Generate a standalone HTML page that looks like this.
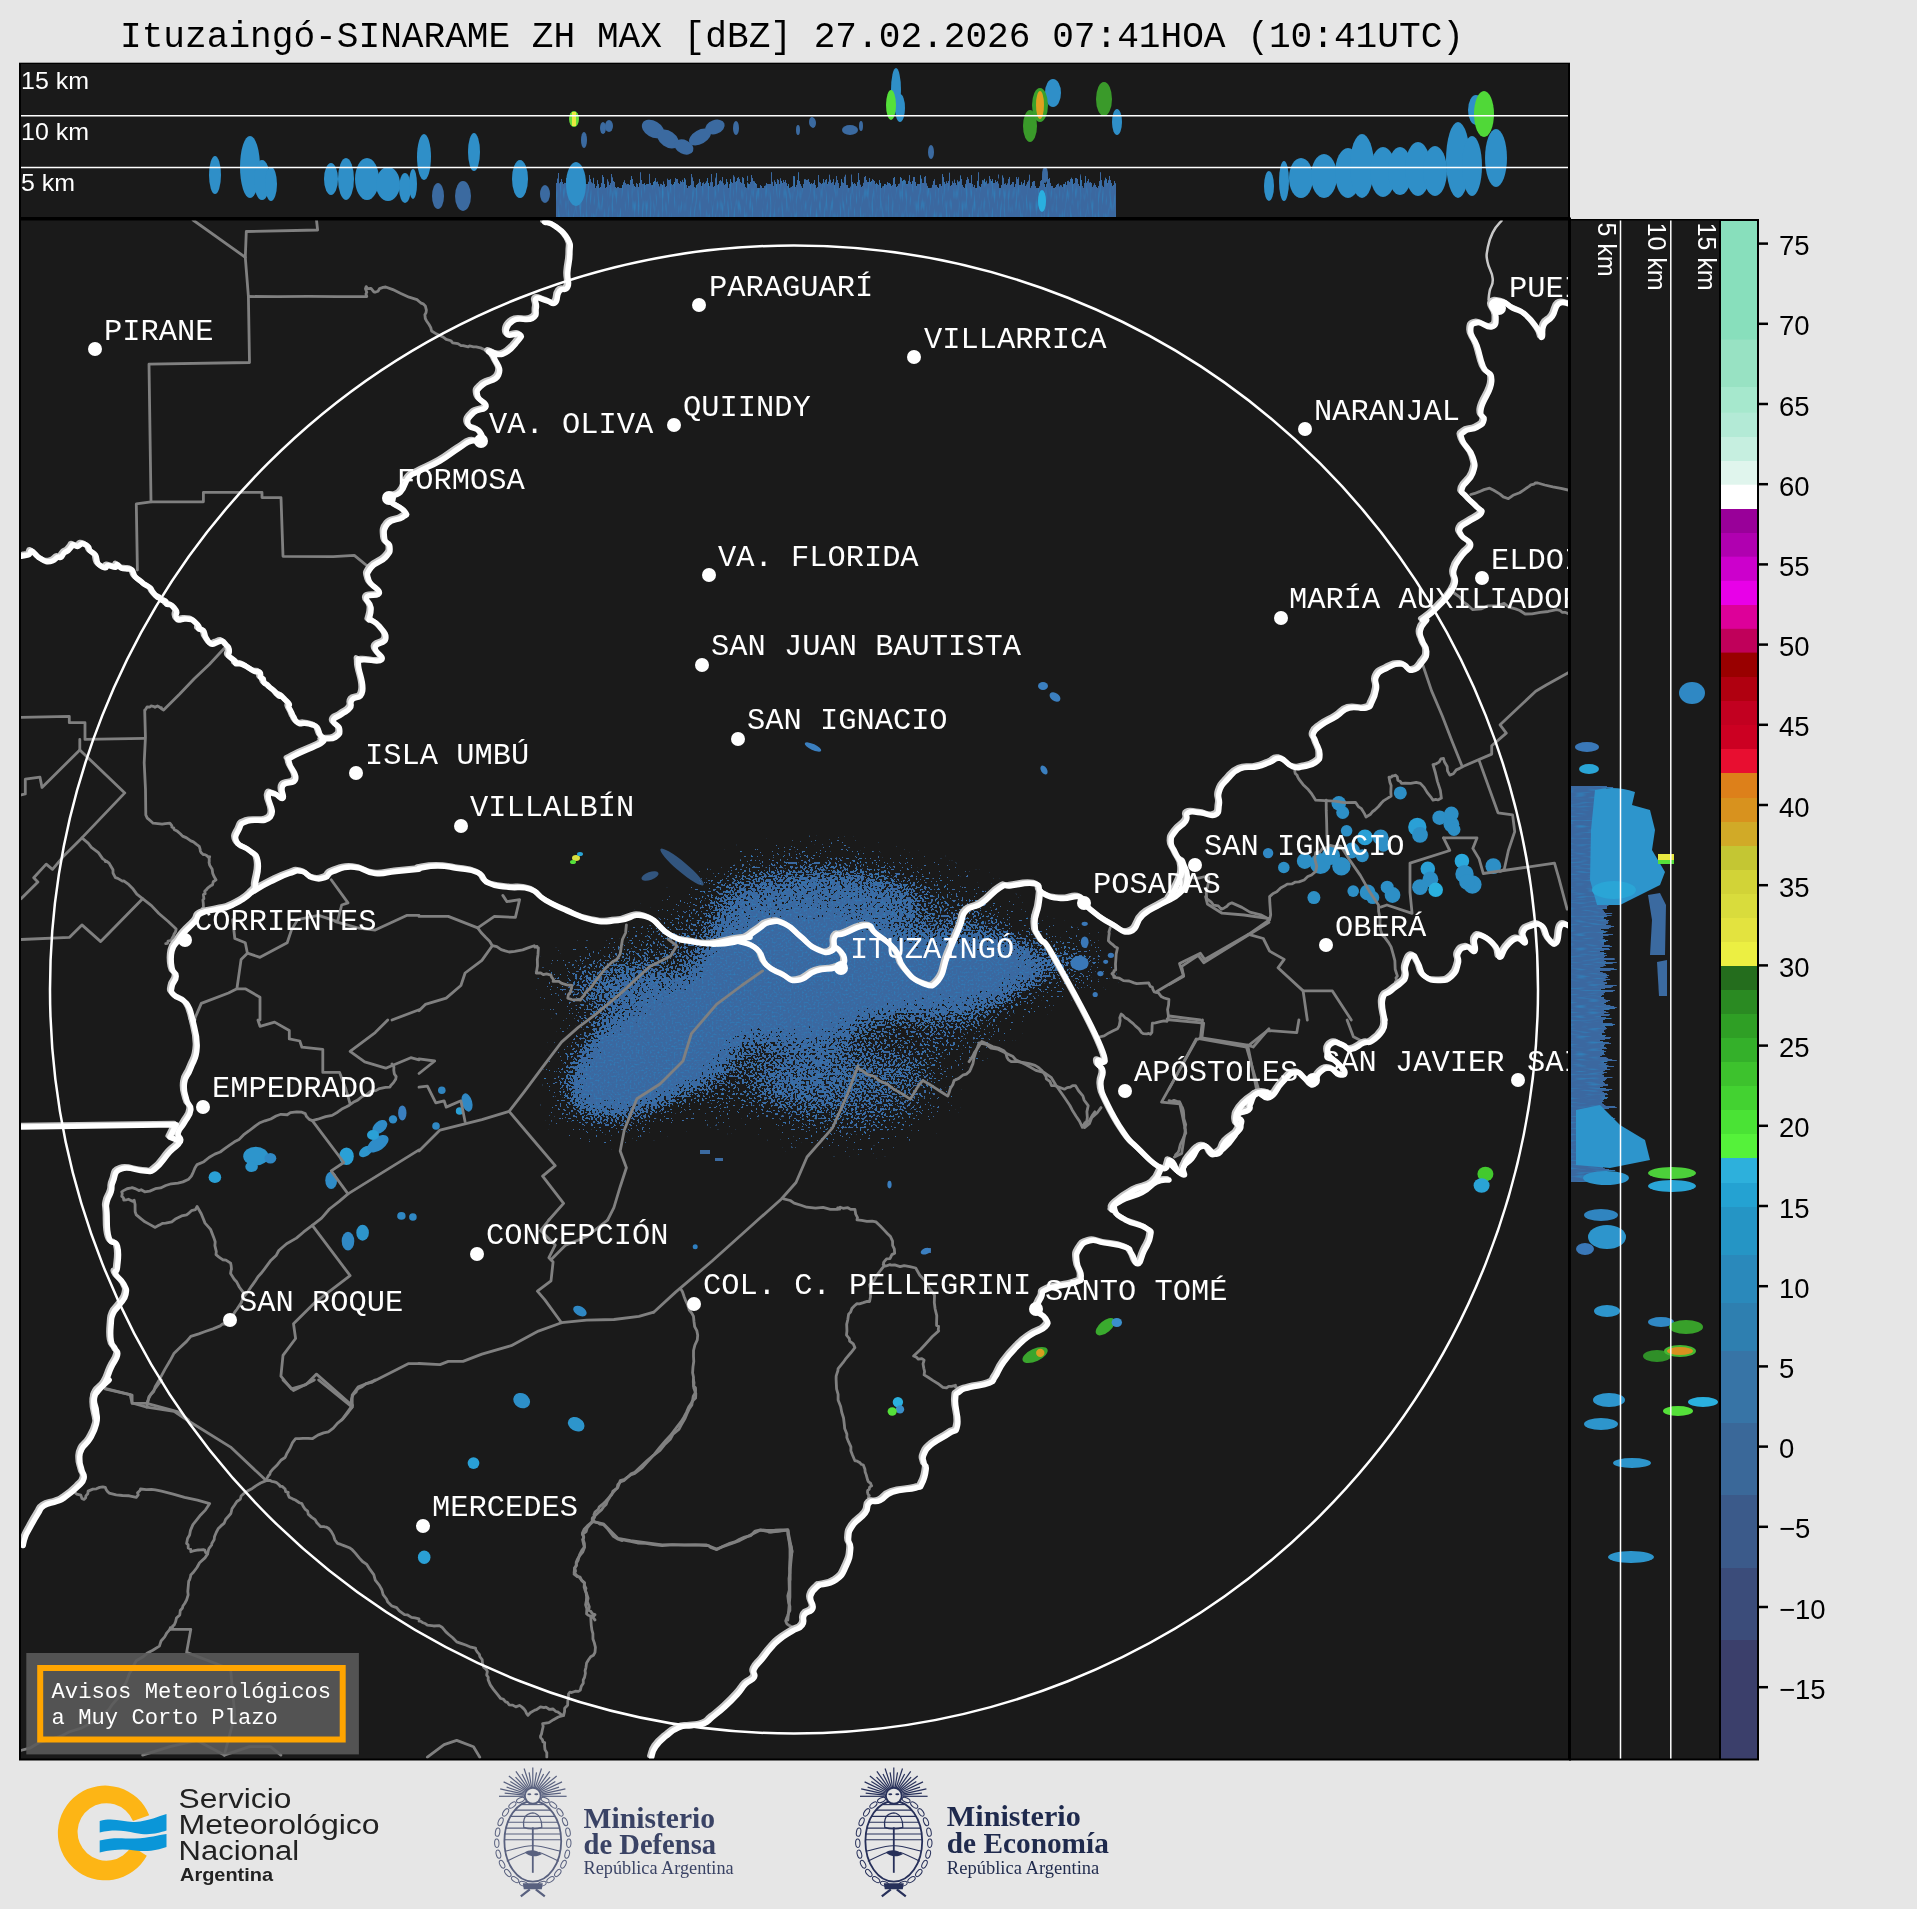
<!DOCTYPE html>
<html><head><meta charset="utf-8"><style>
html,body{margin:0;padding:0;background:#e6e6e6;width:1917px;height:1909px;overflow:hidden}
svg{display:block;will-change:transform}
</style></head><body>
<svg width="1917" height="1909" viewBox="0 0 1917 1909">
<defs>
<clipPath id="cm"><rect x="21" y="220.5" width="1547" height="1538"/></clipPath>
<clipPath id="ct"><rect x="21" y="64" width="1547" height="153"/></clipPath>
<clipPath id="cr"><rect x="1571" y="220.5" width="148" height="1538"/></clipPath>
</defs>
<rect x="0" y="0" width="1917" height="1909" fill="#e6e6e6"/>
<text x="120" y="47.3" font-family="Liberation Mono, monospace" font-size="36" fill="#000" textLength="1344" lengthAdjust="spacingAndGlyphs">Ituzaingó-SINARAME ZH MAX [dBZ] 27.02.2026 07:41HOA (10:41UTC)</text>
<!-- TOP PANEL -->
<rect x="19" y="62.7" width="1551" height="157.3" fill="#000"/>
<rect x="21" y="64" width="1547" height="153" fill="#1a1a1a"/>
<g clip-path="url(#ct)">
<g>
<defs>
<linearGradient id="tgr" x1="0" y1="0" x2="0" y2="1"><stop offset="0" stop-color="#000"/><stop offset="0.22" stop-color="#555"/><stop offset="0.42" stop-color="#fff"/><stop offset="1" stop-color="#fff"/></linearGradient>
<filter id="tstk" filterUnits="userSpaceOnUse" x="540" y="170" width="590" height="48" color-interpolation-filters="sRGB">
<feColorMatrix in="SourceGraphic" type="luminanceToAlpha" result="la"/>
<feTurbulence type="fractalNoise" baseFrequency="0.45 0.04" numOctaves="1" seed="3" result="nz"/>
<feColorMatrix in="nz" type="matrix" values="0 0 0 0 0  0 0 0 0 0  0 0 0 0 0  2.2 0 0 0 -0.6" result="na"/>
<feComposite in="la" in2="na" operator="arithmetic" k1="0" k2="1.3" k3="-1" k4="0" result="d1"/>
<feComponentTransfer in="d1" result="mask"><feFuncA type="linear" slope="40"/></feComponentTransfer>
<feTurbulence type="fractalNoise" baseFrequency="0.5 0.08" numOctaves="1" seed="9" result="nz2"/>
<feColorMatrix in="nz2" type="matrix" values="0 0 0 0 0.18  0 0 0 0 0.52  0 0 0 0 0.75  2.6 0 0 0 -1.3" result="col2"/>
<feFlood flood-color="#3b68a0" result="c1"/>
<feComposite in="col2" in2="c1" operator="over" result="col"/>
<feComposite in="col" in2="mask" operator="in"/>
</filter>
</defs>
<g filter="url(#tstk)"><rect x="540" y="170" width="590" height="48" fill="#000"/><rect x="556" y="172" width="560" height="46" fill="url(#tgr)"/></g>
<g fill="#2f8fc8">
<ellipse cx="215" cy="175" rx="6" ry="19"/>
<ellipse cx="250" cy="167" rx="10" ry="31"/>
<ellipse cx="262" cy="180" rx="8" ry="20"/>
<ellipse cx="271" cy="184" rx="6" ry="17"/>
<ellipse cx="331" cy="179" rx="7" ry="16"/>
<ellipse cx="346" cy="179" rx="8" ry="21"/>
<ellipse cx="367" cy="179" rx="12" ry="21"/>
<ellipse cx="388" cy="184" rx="12" ry="17"/>
<ellipse cx="405" cy="188" rx="6" ry="15"/>
<ellipse cx="413" cy="184" rx="4" ry="15"/>
<ellipse cx="424" cy="157" rx="7" ry="23"/>
<ellipse cx="474" cy="152" rx="6" ry="19"/>
<ellipse cx="520" cy="179" rx="8" ry="19"/>
<ellipse cx="576" cy="184" rx="10" ry="22"/>
<ellipse cx="896" cy="90" rx="5" ry="22"/>
<ellipse cx="900" cy="108" rx="5" ry="14"/>
<ellipse cx="1053" cy="93" rx="8" ry="14"/>
<ellipse cx="1117" cy="122" rx="5" ry="13"/>
<ellipse cx="1269" cy="186" rx="5" ry="15"/>
<ellipse cx="1284" cy="181" rx="5" ry="20"/>
<ellipse cx="1301" cy="178" rx="12" ry="20"/><ellipse cx="1324" cy="176" rx="13" ry="22"/><ellipse cx="1348" cy="173" rx="13" ry="25"/><ellipse cx="1362" cy="166" rx="12" ry="32"/><ellipse cx="1383" cy="172" rx="13" ry="25"/><ellipse cx="1400" cy="171" rx="12" ry="24"/><ellipse cx="1418" cy="169" rx="13" ry="27"/><ellipse cx="1435" cy="171" rx="12" ry="25"/><ellipse cx="1458" cy="160" rx="12" ry="38"/><ellipse cx="1472" cy="166" rx="10" ry="30"/><ellipse cx="1496" cy="158" rx="11" ry="29"/>
<ellipse cx="1476" cy="110" rx="8" ry="15"/>
</g>
<g fill="#3b6aa0">
<ellipse cx="438" cy="196" rx="6" ry="13"/>
<ellipse cx="463" cy="196" rx="8" ry="15"/>
<ellipse cx="545" cy="194" rx="5" ry="9"/>
<ellipse cx="584" cy="140" rx="3" ry="8"/>
<ellipse cx="603" cy="128" rx="3" ry="6"/>
<ellipse cx="609" cy="126" rx="4" ry="6"/>
<ellipse cx="653" cy="129" rx="12" ry="8" transform="rotate(30 653 129)"/><ellipse cx="668" cy="139" rx="12" ry="8" transform="rotate(35 668 139)"/><ellipse cx="684" cy="147" rx="10" ry="7" transform="rotate(25 684 147)"/><ellipse cx="700" cy="137" rx="12" ry="7" transform="rotate(-30 700 137)"/><ellipse cx="715" cy="127" rx="10" ry="7" transform="rotate(-20 715 127)"/><ellipse cx="736" cy="128" rx="3" ry="7"/><ellipse cx="798" cy="130" rx="2" ry="5"/><ellipse cx="813" cy="123" rx="3" ry="5"/><ellipse cx="850" cy="130" rx="8" ry="5"/><ellipse cx="861" cy="126" rx="2" ry="5"/>
<ellipse cx="812" cy="122" rx="3" ry="5"/>

<ellipse cx="931" cy="152" rx="3" ry="7"/>
<ellipse cx="1045" cy="175" rx="3" ry="8"/>
</g>
<ellipse cx="574" cy="119" rx="5" ry="8" fill="#66dd3a"/>
<rect x="572" y="112" width="4" height="14" fill="#e8e840"/>
<ellipse cx="891" cy="105" rx="5" ry="15" fill="#55e03a"/>
<ellipse cx="1030" cy="126" rx="7" ry="16" fill="#3a9a2a"/>
<ellipse cx="1040" cy="105" rx="8" ry="17" fill="#3aa02c"/>
<ellipse cx="1040" cy="105" rx="4" ry="14" fill="#e0a020"/>
<ellipse cx="1104" cy="99" rx="8" ry="17" fill="#3a9a2a"/>
<ellipse cx="1042" cy="201" rx="4" ry="11" fill="#2ab0e0"/>
<ellipse cx="1484" cy="114" rx="10" ry="23" fill="#50d838"/>
</g>

<line x1="21" y1="115.7" x2="1568" y2="115.7" stroke="#fff" stroke-width="1.5"/>
<line x1="21" y1="167.6" x2="1568" y2="167.6" stroke="#fff" stroke-width="1.5"/>
</g>
<g font-family="Liberation Sans, sans-serif" font-size="24" fill="#fff">
<text x="21" y="88.5" textLength="68" lengthAdjust="spacingAndGlyphs">15 km</text><text x="21" y="139.5" textLength="68" lengthAdjust="spacingAndGlyphs">10 km</text><text x="21" y="190.5" textLength="54" lengthAdjust="spacingAndGlyphs">5 km</text>
</g>
<!-- MAP -->
<rect x="19" y="217.5" width="1552" height="1543" fill="#000"/>
<rect x="21" y="220.5" width="1547" height="1538" fill="#1a1a1a"/>
<g clip-path="url(#cm)">
<filter id="spk" filterUnits="userSpaceOnUse" x="520" y="790" width="600" height="400" color-interpolation-filters="sRGB">
<feColorMatrix in="SourceGraphic" type="luminanceToAlpha" result="la"/>
<feGaussianBlur in="la" stdDeviation="14" result="dens"/>
<feTurbulence type="fractalNoise" baseFrequency="0.45" numOctaves="1" seed="7" result="nz"/>
<feColorMatrix in="nz" type="matrix" values="0 0 0 0 0  0 0 0 0 0  0 0 0 0 0  2.2 0 0 0 -0.6" result="na"/>
<feComposite in="dens" in2="na" operator="arithmetic" k1="0" k2="1.2" k3="-1" k4="0" result="d1"/>
<feComponentTransfer in="d1" result="mask"><feFuncA type="linear" slope="40" intercept="0"/></feComponentTransfer>
<feTurbulence type="fractalNoise" baseFrequency="0.5" numOctaves="1" seed="11" result="nz2"/>
<feColorMatrix in="nz2" type="matrix" values="0 0 0 0 0.17  0 0 0 0 0.50  0 0 0 0 0.74  2.5 0 0 0 -1.2" result="col2"/>
<feFlood flood-color="#3b68a0" result="c1"/>
<feComposite in="col2" in2="c1" operator="over" result="col"/>
<feComposite in="col" in2="mask" operator="in"/>
</filter>
<g filter="url(#spk)">
<rect x="520" y="790" width="600" height="400" fill="#000"/>
<ellipse cx="805" cy="990" rx="220" ry="110" fill="#fff" opacity="0.3" transform="rotate(-10 805 990)"/><ellipse cx="660" cy="1048" rx="105" ry="50" fill="#fff" opacity="0.95" transform="rotate(-32 660 1048)"/><ellipse cx="800" cy="978" rx="105" ry="62" fill="#fff" opacity="0.9" transform="rotate(0 800 978)"/><ellipse cx="935" cy="975" rx="110" ry="38" fill="#fff" opacity="0.85" transform="rotate(-5 935 975)"/><ellipse cx="1050" cy="962" rx="45" ry="12" fill="#fff" opacity="0.7" transform="rotate(0 1050 962)"/><ellipse cx="815" cy="905" rx="105" ry="42" fill="#fff" opacity="0.55" transform="rotate(0 815 905)"/><ellipse cx="845" cy="1085" rx="90" ry="45" fill="#fff" opacity="0.4" transform="rotate(0 845 1085)"/><ellipse cx="615" cy="985" rx="55" ry="22" fill="#fff" opacity="0.5" transform="rotate(0 615 985)"/><ellipse cx="880" cy="1040" rx="45" ry="30" fill="#000" opacity="0.3" transform="rotate(0 880 1040)"/><ellipse cx="628" cy="1010" rx="32" ry="3" fill="#000" opacity="0.9" transform="rotate(-15 628 1010)"/>
</g>
<ellipse cx="682" cy="867" rx="28" ry="5" fill="#3b6aa0" opacity="0.75" transform="rotate(40 682 867)"/>
<ellipse cx="650" cy="876" rx="9" ry="4" fill="#3b6aa0" opacity="0.75" transform="rotate(-20 650 876)"/>
<g fill="#3b7fbf"><ellipse cx="1043" cy="686" rx="5" ry="4"/><ellipse cx="1055" cy="697" rx="6" ry="4" transform="rotate(35 1055 697)"/><ellipse cx="1044" cy="770" rx="3" ry="5" transform="rotate(-30 1044 770)"/><ellipse cx="813" cy="747" rx="9" ry="3" transform="rotate(25 813 747)"/></g>
<g fill="#3b6aa0"><rect x="700" y="1150" width="10" height="4"/><rect x="715" y="1158" width="8" height="3"/><rect x="925" y="1248" width="6" height="5"/></g>
<g><ellipse cx="576" cy="858" rx="4" ry="3" fill="#d8e040"/><ellipse cx="573" cy="862" rx="3" ry="2" fill="#55e03a"/><ellipse cx="580" cy="854" rx="3" ry="2" fill="#2aa5d6"/></g>
<ellipse cx="1338.8" cy="803.3" rx="7.3" ry="7.3" fill="#2d8fc6" transform="rotate(0 1338.8 803.3)"/><ellipse cx="1342.7" cy="812.5" rx="6.5" ry="6.5" fill="#2d8fc6" transform="rotate(0 1342.7 812.5)"/><ellipse cx="1400.3" cy="792.9" rx="6.5" ry="6.5" fill="#2d8fc6" transform="rotate(0 1400.3 792.9)"/><ellipse cx="1346.6" cy="830.8" rx="5.8" ry="5.8" fill="#2d8fc6" transform="rotate(0 1346.6 830.8)"/><ellipse cx="1304.7" cy="861.0" rx="7.9" ry="7.9" fill="#2d8fc6" transform="rotate(0 1304.7 861.0)"/><ellipse cx="1320.4" cy="863.6" rx="10.5" ry="10.5" fill="#2d8fc6" transform="rotate(0 1320.4 863.6)"/><ellipse cx="1330.9" cy="855.7" rx="9.2" ry="9.2" fill="#2d8fc6" transform="rotate(0 1330.9 855.7)"/><ellipse cx="1341.4" cy="866.2" rx="9.2" ry="9.2" fill="#2d8fc6" transform="rotate(0 1341.4 866.2)"/><ellipse cx="1351.9" cy="850.5" rx="7.9" ry="7.9" fill="#2d8fc6" transform="rotate(0 1351.9 850.5)"/><ellipse cx="1365.0" cy="837.4" rx="7.9" ry="7.9" fill="#2aa0d6" transform="rotate(0 1365.0 837.4)"/><ellipse cx="1380.7" cy="837.4" rx="7.9" ry="7.9" fill="#2d8fc6" transform="rotate(0 1380.7 837.4)"/><ellipse cx="1383.3" cy="845.2" rx="6.5" ry="6.5" fill="#2d8fc6" transform="rotate(0 1383.3 845.2)"/><ellipse cx="1362.3" cy="855.7" rx="6.5" ry="6.5" fill="#2d8fc6" transform="rotate(0 1362.3 855.7)"/><ellipse cx="1268.1" cy="853.1" rx="5.2" ry="5.2" fill="#3088c4" transform="rotate(0 1268.1 853.1)"/><ellipse cx="1283.8" cy="867.5" rx="5.8" ry="5.8" fill="#2d8fc6" transform="rotate(0 1283.8 867.5)"/><ellipse cx="1313.9" cy="897.6" rx="6.5" ry="6.5" fill="#2d8fc6" transform="rotate(0 1313.9 897.6)"/><ellipse cx="1353.2" cy="891.1" rx="5.8" ry="5.8" fill="#2d8fc6" transform="rotate(0 1353.2 891.1)"/><ellipse cx="1367.6" cy="892.4" rx="7.9" ry="7.9" fill="#2d8fc6" transform="rotate(0 1367.6 892.4)"/><ellipse cx="1372.8" cy="897.6" rx="6.5" ry="6.5" fill="#2d8fc6" transform="rotate(0 1372.8 897.6)"/><ellipse cx="1387.2" cy="887.2" rx="6.5" ry="6.5" fill="#2d8fc6" transform="rotate(0 1387.2 887.2)"/><ellipse cx="1392.5" cy="895.0" rx="7.9" ry="7.9" fill="#2d8fc6" transform="rotate(0 1392.5 895.0)"/><ellipse cx="1417.3" cy="826.9" rx="9.2" ry="9.2" fill="#2aa0d6" transform="rotate(0 1417.3 826.9)"/><ellipse cx="1420.0" cy="834.8" rx="7.9" ry="7.9" fill="#2d8fc6" transform="rotate(0 1420.0 834.8)"/><ellipse cx="1439.6" cy="817.7" rx="7.3" ry="7.3" fill="#2d8fc6" transform="rotate(0 1439.6 817.7)"/><ellipse cx="1451.4" cy="824.3" rx="7.9" ry="7.9" fill="#2d8fc6" transform="rotate(0 1451.4 824.3)"/><ellipse cx="1451.4" cy="813.8" rx="7.3" ry="7.3" fill="#2d8fc6" transform="rotate(0 1451.4 813.8)"/><ellipse cx="1454.0" cy="829.5" rx="6.5" ry="6.5" fill="#2d8fc6" transform="rotate(0 1454.0 829.5)"/><ellipse cx="1427.8" cy="868.8" rx="7.3" ry="7.3" fill="#2aa0d6" transform="rotate(0 1427.8 868.8)"/><ellipse cx="1430.4" cy="879.3" rx="7.9" ry="7.9" fill="#2d8fc6" transform="rotate(0 1430.4 879.3)"/><ellipse cx="1420.0" cy="887.2" rx="7.9" ry="7.9" fill="#2d8fc6" transform="rotate(0 1420.0 887.2)"/><ellipse cx="1435.7" cy="889.8" rx="7.3" ry="7.3" fill="#2ab0de" transform="rotate(0 1435.7 889.8)"/><ellipse cx="1461.9" cy="861.0" rx="7.3" ry="7.3" fill="#2aa8dc" transform="rotate(0 1461.9 861.0)"/><ellipse cx="1464.5" cy="874.1" rx="9.2" ry="9.2" fill="#2d8fc6" transform="rotate(0 1464.5 874.1)"/><ellipse cx="1472.4" cy="884.5" rx="9.2" ry="9.2" fill="#2d8fc6" transform="rotate(0 1472.4 884.5)"/><ellipse cx="1467.1" cy="881.9" rx="7.9" ry="7.9" fill="#2d8fc6" transform="rotate(0 1467.1 881.9)"/><ellipse cx="1493.3" cy="866.2" rx="7.9" ry="7.9" fill="#2d8fc6" transform="rotate(0 1493.3 866.2)"/><ellipse cx="1079.5" cy="963.1" rx="9.2" ry="7.3" fill="#3a78b8" transform="rotate(0 1079.5 963.1)"/><ellipse cx="1084.7" cy="942.2" rx="3.9" ry="5.8" fill="#3a78b8" transform="rotate(0 1084.7 942.2)"/><ellipse cx="1084.7" cy="923.8" rx="3.1" ry="2.1" fill="#3a78b8" transform="rotate(0 1084.7 923.8)"/><ellipse cx="1110.9" cy="955.3" rx="3.1" ry="2.6" fill="#3a78b8" transform="rotate(0 1110.9 955.3)"/><ellipse cx="1100.4" cy="973.6" rx="3.1" ry="2.6" fill="#3a78b8" transform="rotate(0 1100.4 973.6)"/><ellipse cx="1095.2" cy="994.5" rx="2.6" ry="2.6" fill="#3a78b8" transform="rotate(0 1095.2 994.5)"/><ellipse cx="1105.7" cy="961.8" rx="2.6" ry="2.1" fill="#3a78b8" transform="rotate(0 1105.7 961.8)"/><ellipse cx="1485.4" cy="1174.0" rx="8.0" ry="7.3" fill="#43c92e" transform="rotate(0 1485.4 1174.0)"/><ellipse cx="1481.6" cy="1185.5" rx="8.0" ry="7.3" fill="#2aa3d6" transform="rotate(0 1481.6 1185.5)"/><ellipse cx="897.9" cy="1402.1" rx="5.2" ry="5.2" fill="#2bb0de" transform="rotate(0 897.9 1402.1)"/><ellipse cx="900.0" cy="1409.4" rx="4.2" ry="4.2" fill="#3a8ec8" transform="rotate(0 900.0 1409.4)"/><ellipse cx="892.2" cy="1411.5" rx="4.6" ry="4.2" fill="#55e03a" transform="rotate(0 892.2 1411.5)"/><ellipse cx="1035.1" cy="1355.0" rx="13.6" ry="6.3" fill="#3aa52d" transform="rotate(-25 1035.1 1355.0)"/><ellipse cx="1040.3" cy="1352.9" rx="4.2" ry="4.2" fill="#d8a020" transform="rotate(0 1040.3 1352.9)"/><ellipse cx="1105.3" cy="1326.7" rx="11.5" ry="5.9" fill="#3aaa2e" transform="rotate(-40 1105.3 1326.7)"/><ellipse cx="1116.8" cy="1322.5" rx="5.2" ry="4.6" fill="#3b8fcc" transform="rotate(0 1116.8 1322.5)"/><ellipse cx="925.7" cy="1251.2" rx="5.2" ry="3.1" fill="#3b7fc0" transform="rotate(-20 925.7 1251.2)"/><ellipse cx="889.5" cy="1184.6" rx="2.1" ry="3.8" fill="#3b7fc0" transform="rotate(0 889.5 1184.6)"/><ellipse cx="255.8" cy="1156.2" rx="12.6" ry="9.4" fill="#2d95cc" transform="rotate(0 255.8 1156.2)"/><ellipse cx="270.4" cy="1158.3" rx="5.9" ry="5.2" fill="#3088c4" transform="rotate(0 270.4 1158.3)"/><ellipse cx="251.6" cy="1166.7" rx="6.3" ry="5.2" fill="#2d95cc" transform="rotate(0 251.6 1166.7)"/><ellipse cx="214.9" cy="1177.2" rx="6.3" ry="5.9" fill="#2aa0d6" transform="rotate(0 214.9 1177.2)"/><ellipse cx="346.5" cy="1156.2" rx="7.3" ry="8.8" fill="#2aa0d6" transform="rotate(0 346.5 1156.2)"/><ellipse cx="331.2" cy="1180.3" rx="5.9" ry="8.8" fill="#2f8cc8" transform="rotate(0 331.2 1180.3)"/><ellipse cx="348.0" cy="1241.1" rx="6.3" ry="9.4" fill="#3088c4" transform="rotate(0 348.0 1241.1)"/><ellipse cx="362.6" cy="1232.7" rx="6.3" ry="8.0" fill="#2d95cc" transform="rotate(0 362.6 1232.7)"/><ellipse cx="401.4" cy="1215.9" rx="4.2" ry="3.8" fill="#3088c4" transform="rotate(0 401.4 1215.9)"/><ellipse cx="412.9" cy="1217.0" rx="3.8" ry="3.8" fill="#3088c4" transform="rotate(0 412.9 1217.0)"/><ellipse cx="521.7" cy="1400.6" rx="8.8" ry="7.3" fill="#2d8fc8" transform="rotate(30 521.7 1400.6)"/><ellipse cx="576.2" cy="1424.3" rx="8.8" ry="6.7" fill="#2d95cc" transform="rotate(30 576.2 1424.3)"/><ellipse cx="473.5" cy="1463.1" rx="5.9" ry="5.9" fill="#2aa0d6" transform="rotate(0 473.5 1463.1)"/><ellipse cx="424.2" cy="1557.3" rx="6.3" ry="6.7" fill="#2aa0d6" transform="rotate(0 424.2 1557.3)"/><ellipse cx="579.9" cy="1311.1" rx="7.3" ry="4.6" fill="#2f88c4" transform="rotate(30 579.9 1311.1)"/><ellipse cx="695.2" cy="1246.8" rx="2.5" ry="2.5" fill="#2f7fc0" transform="rotate(0 695.2 1246.8)"/><ellipse cx="365.7" cy="1151.4" rx="7.5" ry="4.7" fill="#2d95cc" transform="rotate(-35 365.7 1151.4)"/><ellipse cx="378" cy="1143.8" rx="12" ry="6.6" fill="#2f8cc8" transform="rotate(-35 378 1143.8)"/><ellipse cx="379.8" cy="1127" rx="8.5" ry="5.6" fill="#2f8cc8" transform="rotate(-40 379.8 1127)"/><ellipse cx="373" cy="1135" rx="6" ry="5" fill="#2aa0d6" transform="rotate(0 373 1135)"/><ellipse cx="393" cy="1119.4" rx="4.2" ry="4.2" fill="#2f8cc8" transform="rotate(0 393 1119.4)"/><ellipse cx="402.3" cy="1112.9" rx="4.2" ry="7.5" fill="#3a7fc0" transform="rotate(0 402.3 1112.9)"/><ellipse cx="441.8" cy="1090.3" rx="3.8" ry="3.8" fill="#3085c0" transform="rotate(0 441.8 1090.3)"/><ellipse cx="467" cy="1102.5" rx="5.2" ry="9.4" fill="#3088c4" transform="rotate(-15 467 1102.5)"/><ellipse cx="459.6" cy="1111" rx="3.8" ry="3.8" fill="#2aa0d6" transform="rotate(0 459.6 1111)"/><ellipse cx="436" cy="1126" rx="3.8" ry="3.8" fill="#3088c4" transform="rotate(0 436 1126)"/>
<g fill="none" stroke="#808080" stroke-width="2.8" stroke-linejoin="round" stroke-linecap="round">
<path d="M193,220 L245.3,257.3"/><path d="M316.5,220 L317.6,230 L246.3,231.5 L245.3,257.3 L248.4,296.5 L249.5,362.5 L149,364.2 L151,501.8 L136.3,503.9 L137.4,570"/><path d="M248.4,296.5 L277.895,296.631 L308.533,296.424 L337.217,296.692 L366.8,296.5 L365.956,294.051 L366.786,292.195 L365.457,288.642 L366.2,286.6 L367.499,288.706 L371.026,288.442 L373.861,291.897 L375,292.3 L378.014,291.229 L379.596,288.583 L383.087,287.356 L385.7,287 L392.843,289.582 L400.316,293.221 L409.044,297.203 L417,299.6 L419.117,301.484 L421.15,303.107 L423.131,303.837 L425.3,305.9 L426.395,310.141 L426.048,312.657 L424.894,314.755 L425.3,318.5 L426.411,320.679 L429.036,324.531 L430.787,327.625 L431.6,331 L436.258,333.864 L437.801,334.561 L443.453,337.234 L446.2,339.4 L450.957,340.749 L452.661,342.835 L457.913,343.619 L461,345.7 L463.217,345.607 L468.271,346.818 L469.535,345.967 L473.5,346.8 L476.272,346.882 L481.453,348.191 L484.58,349.834 L488.1,351"/><path d="M151,501.8 L203.4,501.8 L203.4,492.4 L262,492.4 L262,497.6 L281,497.6 L283,556.3 L333.3,556.7 L354.3,555.3 L371,569"/><path d="M1470.7,494.5 L1474.74,493.435 L1479.34,491.666 L1484.03,489.601 L1489.6,488.2 L1493.67,490.319 L1500.04,494.118 L1503.27,496.922 L1508.4,498.7 L1513.01,495.317 L1519.68,492.712 L1523.27,490.326 L1529.4,486.1 L1530.87,484.793 L1534.2,484.174 L1535.25,482.836 L1537.8,483 L1544.7,485.007 L1552.83,486.873 L1560.92,488.372 L1569,490.3"/><path d="M1454,593 L1459.71,597.139 L1463.56,602.156 L1467.4,604.764 L1472.8,609.7 L1481.55,608.824 L1487.95,605.868 L1496.88,605.944 L1504.2,603.4 L1508.78,607.04 L1515.54,608.928 L1519.78,610.478 L1525.2,614 L1532.04,613.943 L1540.32,612.3 L1548.22,611.487 L1556.6,609.7 L1559.91,610.321 L1562.09,612.335 L1564.95,612.327 L1569,614"/><path d="M224.3,648.3 L209.256,664.525 L194.201,678.716 L179.693,693.999 L163.6,710.1 L161.486,708.817 L161.381,707.583 L159.738,707.486 L159.4,707 L157.459,705.914 L154.897,707.31 L154.157,706.52 L151,705.9 L149.846,707.136 L147.059,706.977 L145.214,709.952 L144.7,710.1 L145.417,737.318 L144.197,762.8 L145.486,789.207 L145.8,814.9 L147.227,818.074 L148.516,819.151 L151.796,822.005 L153.1,823.2 L157.822,823.648 L162.145,824.113 L165.374,823.607 L169.9,823.2 L171.832,825.591 L171.818,826.989 L173.85,828.085 L174.1,829.5 L177.5,831.341 L180.532,833.94 L182.551,836.107 L186.6,837.9 L190.835,840.836 L193.402,841.855 L196.567,844.378 L199.2,846.3 L200.119,849.144 L200.384,851.05 L201.316,852.823 L203.4,854.7 L204.933,854.631 L206.986,855.744 L208.377,857.2 L209.7,856.8 L209.163,857.825 L209.262,861.392 L209.046,862.373 L209.7,865.2 L212.168,869.202 L212.722,873.362 L214.044,876.515 L216,879.8 L213.237,881.748 L212.473,884.911 L210.537,885.846 L207.6,888.2 L206.733,889.371 L204.7,891.342 L205.192,893.692 L203.4,894.5 L203.865,898.64 L202.909,900.072 L203.291,903.455 L203.4,907.1 L202.246,908.461 L202.627,910.187 L201.419,912.496 L201.3,913.3"/><path d="M21.1,717.4 L69.3,716.4 L69.3,722.7 L85,722.7 L85,739.4 L144.7,738.4"/><path d="M79.8,739.4 L79.8,749.9 L42,787.6 L40,777.2 L25.3,779.2 L25.3,793.9 L21.1,795"/><path d="M79.8,749.9 L124.8,792.9 L81.9,837.9 L63,856.8 L52.5,869.3 L46.2,864.1 L33.7,877.7 L37.9,881.9 L21.1,898.7"/><path d="M81.9,837.9 L88.1855,843.045 L91.4143,847.369 L98.3952,852.641 L102.8,858.9 L104.834,860.105 L105.53,861.641 L106.467,861.249 L109.1,863.1 L110.576,865.704 L112.975,869.822 L113.035,873.053 L115.4,877.7 L117.784,878.382 L119.886,879.641 L122.376,881.109 L123.8,880.9 L128.906,884.689 L133.145,889.093 L136.824,894.189 L142.6,898.7 L151.471,905.594 L158.899,913.561 L168.234,921.545 L176.2,929.1 L175.402,932.014 L173.866,934.442 L173.944,935.242 L172,938.5 L171.377,940.289 L168.036,940.998 L167.551,943.302 L165.7,943.7"/><path d="M142.6,898.7 L100.7,941.6 L81.9,924.9 L69.3,937.4 L21.1,939.5"/><path d="M232.7,919.6 L234.8,938.5 L245.3,942.7 L247.4,953.2 L260,957.3 L287.2,942.7 L291.4,930.1 L297.7,919.6 L318.6,915.4 L337.5,921.7 L341.7,905 L348,902.9 L331.2,879.8"/><path d="M335.4,921.7 L358.4,928 L375.2,930.1 L406.6,915.4 L419,915.4"/><path d="M247.4,953.2 L241.1,959.4 L236.9,988.8 L228.5,993 L201.3,1003.4 L195,1018.1 L195,1020"/><path d="M236.9,988.8 L245.3,988.8 L260,997.2 L260,1020"/><path d="M392,1020 L419,1009.7"/><path d="M419,916.4 L448.3,916.4 L477.7,927.9 L494.4,916.4 L515.4,917.4 L519.6,899.6 L507,901.7 L502.8,895.4"/><path d="M477.7,927.9 L481.079,932.501 L485.835,937.453 L489.627,941.17 L492.3,945.7 L496.833,946.626 L501.188,949.55 L505.212,950.904 L509.1,952 L514.744,951.305 L522.707,949.9 L528.006,947.915 L534.2,945.7 L534.855,947.127 L537.083,946.417 L536.432,947.145 L538.4,947.8 L537.986,954.69 L537.322,959.363 L537.505,965.741 L536.3,973 L540.635,972.805 L543.287,974.683 L546.534,973.802 L551,975.1 L551.561,977.142 L552.798,978.617 L553.556,979.734 L553.1,981.3 L558.813,981.439 L561.937,983.459 L566.813,984.953 L572,985.5 L571.256,988.7 L570.656,991.932 L568.436,994.689 L567.8,998.1 L571.685,999.506 L573.408,999.922 L578.206,999.728 L580.3,1000.2 L582.036,997.442 L583.529,996.007 L585.257,992.861 L586.6,991.8 L591.833,986.61 L594.781,982.012 L599.338,976.105 L603.4,970.9 L608.02,965.745 L611.885,962.31 L617.005,959.232 L620.2,954.1 L621.242,946.716 L622.479,939.304 L625.545,933.006 L626.4,924.8"/><path d="M492.3,945.7 L481.9,960.4 L465.1,973 L460.9,985.5 L446.2,998.1 L425.3,1004.4 L419,1010.7"/><path d="M668.3,939.4 L676.7,945.7 L670.4,956.2 L649.5,966.7 L620.2,993.9 L595,1014.9 L578.2,1027.4 L561.5,1042.1 L542.6,1067.2 L523.8,1092.4 L509.1,1111.3 L481.9,1119.6 L440,1130.1 L419,1151.1"/><path d="M509.1,1111.3 L532.1,1138.5 L555.2,1165.7 L542.6,1176.2 L563.6,1203.4 L548.9,1220"/><path d="M465.1,1121.7 L460.9,1100.8 L446.2,1107.1 L444.1,1100.8 L435.8,1102.9 L427.4,1086.1 L419,1087.2"/><path d="M419,1058.9 L434.7,1061 L419,1073.5"/><path d="M762.6,970.9 L741.7,985.5 L716.5,1004.4 L691.4,1033.7 L683,1061 L660,1084 L636.9,1098.7 L624.3,1130.1 L620.2,1151.1 L626.4,1167.8 L620.2,1186.7 L613.9,1207.6 L607.6,1220"/><path d="M857,1067.9 L862.423,1070.65 L867.271,1074.46 L874.361,1076.53 L878.9,1080.5 L887.339,1084.13 L893.877,1089.25 L902.786,1094.13 L910.2,1099.2 L913.032,1094.79 L915.631,1090.36 L918.82,1085.2 L922.8,1080.5 L928.501,1083.74 L935.367,1088.16 L941.277,1092.01 L947.8,1096.1 L949.44,1091.45 L950.299,1088.59 L952.83,1084.47 L954.1,1080.5 L958.773,1078.4 L962.685,1075.21 L966.33,1074.13 L969.7,1071.1 L972.936,1063.64 L973.993,1057.93 L976.13,1051.05 L979.1,1042.9 L986.203,1044.44 L991.027,1048.1 L997.321,1049.06 L1004.1,1052.3 L1008.76,1054.48 L1012.59,1056.18 L1015.66,1059.76 L1019.8,1061.7 L1026.56,1064.94 L1035.85,1070.41 L1044.31,1072.55 L1051.1,1077.3 L1055.81,1084.92 L1060.51,1091.81 L1064.52,1097.51 L1069.9,1105.5 L1072.16,1109.96 L1076.26,1116.48 L1079.43,1121.15 L1082.4,1127.4 L1084.83,1122.85 L1089.4,1120.68 L1092.71,1114.81 L1094.9,1111.8"/><path d="M1422.5,664 L1431.49,690.668 L1442.32,715.932 L1451.97,740.952 L1462.3,766.7 L1459.21,768.646 L1456.27,769.829 L1453.37,773.757 L1449.8,775.1 L1447.52,770.799 L1447.18,766.492 L1444.4,761.763 L1443.5,758.3 L1440.9,758.809 L1439.12,762.114 L1436.08,763.819 L1433,764.6 L1435.38,772.765 L1437.42,781.359 L1440.36,790.396 L1441.4,798.1 L1438.77,799.53 L1437.74,799.762 L1435.79,799.467 L1433,800.2 L1430.72,796.836 L1427.13,792.388 L1424.13,787.393 L1420.4,783.4 L1416.19,782.455 L1410.65,783.331 L1405.22,783.082 L1401.6,783.4 L1400.33,781.598 L1397.86,780.228 L1397.24,776.818 L1395.3,775.1 L1394.08,775.778 L1392.22,775.907 L1391.67,776.988 L1389,777.2 L1389.97,782.476 L1391.11,785.55 L1390.83,791.825 L1391.1,796 L1387.41,798.408 L1383.81,800.58 L1381.38,802.992 L1378.5,806.5 L1374.83,810.017 L1372.36,811.767 L1370.15,814.525 L1366,817 L1364.46,813.629 L1361.43,808.718 L1358.34,806.545 L1355.5,802.3 L1344.55,802.721 L1334.85,801.188 L1324.92,800.715 L1315.7,800.2 L1311.74,793.979 L1308.28,789.526 L1303.16,784.665 L1298.9,779.2 L1297.55,776.654 L1297.14,775.183 L1295.27,773.452 L1294.7,770.9"/><path d="M1462.3,766.7 L1491.7,754.1 L1491.7,745.7 L1506.3,733.1 L1500.1,724.8 L1535.7,691.2 L1546.2,685 L1569,672.4"/><path d="M1479.1,760.4 L1498,812.8 L1512.6,814.9 L1514.7,831.6 L1508.4,850.5 L1504.3,869.3 L1500.1,871.4"/><path d="M1443.5,837.9 L1477,837.9 L1472.8,848.4 L1479.1,858.9 L1483.3,873.5 L1554.5,863.1 L1558.7,877.7 L1567.1,909.2"/><path d="M1443.5,837.9 L1449.8,850.5 L1410,863.1 L1410,892.4 L1412.1,913.3 L1386.9,905 L1380.6,907.1"/><path d="M1326.2,800.2 L1326.25,810.656 L1326.64,822.244 L1326.94,835.335 L1328.2,846.3 L1324.83,848.75 L1322.5,848.46 L1319.9,852.003 L1315.7,852.6 L1314.76,858.192 L1315.54,861.951 L1316.74,866.136 L1315.7,871.4 L1311.55,874.987 L1307.79,876.58 L1304.15,879.972 L1298.9,881.9 L1295.45,882.103 L1291.82,883.903 L1287.22,884.065 L1284.2,886.1 L1280.61,887.899 L1276.77,891.719 L1273.15,893.452 L1269.6,896.6 L1269.78,902.173 L1270.21,908.168 L1270.69,914.846 L1269.6,919.6 L1260.69,914.85 L1249.9,912.114 L1241.95,907.35 L1231.9,902.9 L1228.97,903.972 L1227.06,906.193 L1224.23,907.918 L1221.4,909.2 L1218.28,905.893 L1213.5,905.005 L1211.29,902.158 L1206.7,898.7 L1206.21,892.484 L1207.25,888.035 L1208.55,882.075 L1208.8,877.7 L1204.19,876.759 L1198.49,878.088 L1194.81,877.988 L1190,877.7 L1186.57,879.228 L1183.06,880.506 L1181.09,883.17 L1177.4,884"/><path d="M1328.2,846.3 L1330.41,845.464 L1335.18,846.572 L1338.24,845.669 L1340.8,846.3 L1350.06,860.443 L1360.33,875.362 L1369.41,891.401 L1378.5,905 L1378.64,911.382 L1380.09,918.476 L1379.92,923.537 L1380.6,930.1 L1382.34,935.125 L1384.92,937.583 L1388.62,942.667 L1391.1,946.9 L1393.08,953.783 L1394.86,960.617 L1395.19,969.232 L1397.4,976.2 L1395.95,977.868 L1396.84,980.827 L1395.35,981.714 L1395.3,984.6"/><path d="M1269.6,919.6 L1248.6,934.3 L1204.6,959.4 L1200.4,953.2 L1179.5,963.6 L1183.7,976.2 L1169,984.6"/><path d="M1248.6,934.3 L1263.3,938.5 L1269.6,951.1 L1284.2,959.4 L1278,967.8 L1303.1,990.9 L1307.3,1020"/><path d="M1303.1,990.9 L1332.4,990.9 L1351.3,1020"/><path d="M1169,1016 L1200.4,1020"/><path d="M1202.5,1020 L1200.4,1038.9 L1246.5,1047.2 L1259.1,1091.2"/><path d="M1196.2,1038.9 L1169,1089.1"/><path d="M1246.5,1047.2 L1267.5,1030.5 L1296.8,1032.6 L1298.9,1020"/><path d="M1347.1,1020 L1353.4,1036.8 L1361.8,1041"/><path d="M1169,1100.7 L1171.31,1101.45 L1173.96,1100.36 L1177.34,1101.6 L1179.5,1101.7 L1181.47,1105.82 L1182.51,1107.86 L1183.32,1110.72 L1183.7,1114.3 L1183.82,1118.78 L1185.71,1124.57 L1184.72,1128.1 L1185.8,1133.1 L1183.93,1136.47 L1182.42,1140.2 L1180.4,1144.27 L1179.5,1147.8 L1179.1,1149.99 L1178.14,1152.14 L1175.64,1154.67 L1175.3,1156.2"/><path d="M783.7,1198.9 L790.288,1200.49 L794.149,1203.08 L801.047,1205.27 L806.7,1207.2 L815.576,1208.06 L823.07,1207.29 L830.353,1209.41 L838.1,1209.3 L837.71,1207.85 L839.672,1209.13 L838.761,1208.02 L840.2,1207.2 L843.092,1208.27 L847.878,1207.69 L850.61,1209.36 L854.9,1209.3 L855.472,1212.51 L855.718,1214.19 L857.505,1217.55 L857,1219.8 L861.711,1220.41 L866.936,1221.31 L872.088,1221.18 L875.9,1221.9 L880.268,1225.94 L883.978,1229.92 L887.584,1233.78 L890.5,1236.6 L892.557,1241.08 L892.652,1245.41 L894.315,1248.95 L894.7,1253.3 L891.9,1254.62 L889.981,1258.58 L886.551,1258.87 L884.2,1261.7 L883.55,1262.58 L883.742,1264.83 L883.23,1264.43 L884.2,1265.9 L885.978,1265.98 L890.057,1264.69 L891.112,1265.06 L894.7,1264.9 L900.135,1266.58 L904.18,1265.59 L909.756,1266.6 L915.7,1268 L919.818,1275.28 L925.309,1280.99 L929.107,1287.92 L934.5,1295.2 L934.305,1302.59 L935.136,1308.96 L936.773,1315.63 L936.6,1322.5 L936.598,1325.45 L938.561,1326.35 L938.279,1329.81 L938.7,1330.9 L932.387,1336.56 L925.159,1344.43 L920.538,1349.47 L913.6,1356 L916.286,1357.08 L918.354,1359.18 L921.822,1358.57 L924.1,1360.2 L923.024,1363.81 L923.817,1368.2 L924.569,1371.46 L924.1,1374.9 L928.046,1377.27 L933.108,1380.62 L939.012,1384.31 L942.9,1387.4 L946.351,1387.96 L948.686,1386.43 L951.581,1386.42 L955.5,1385.3 L955.453,1387.06 L958.362,1388.11 L957.731,1387.94 L959.7,1389.5"/><path d="M884.2,1265.9 L881.026,1269.74 L876.856,1275.28 L874.252,1280.27 L869.6,1284.8 L870.386,1288.54 L870.237,1292.97 L870.517,1296.43 L869.6,1301.5 L867.168,1301.38 L863.395,1302.61 L859.397,1303.81 L857,1303.6 L854.485,1305.81 L851.867,1308.42 L850.628,1311.95 L848.6,1314.1 L847.766,1319.76 L846.683,1324.37 L846.941,1330.88 L846.5,1335.1 L849.325,1338.56 L849.627,1341.08 L853.262,1343.9 L854.9,1347.6 L850.841,1352.76 L845.423,1359.18 L842.959,1362.7 L838.1,1368.6 L837.855,1370.76 L836.827,1373.94 L836.156,1376.12 L836.1,1379.1 L836.363,1384.69 L836.564,1388.89 L838.109,1394.4 L838.1,1400 L840.654,1406.44 L841.742,1412.23 L843.544,1418 L844.4,1425.2 L844.66,1428.48 L846.891,1434.01 L846.846,1437.51 L848.6,1441.9 L850.916,1446.83 L850.848,1450.75 L852.571,1455.25 L854.9,1460.8 L856.795,1460.91 L860.025,1462.74 L861.225,1464.27 L863.3,1465 L864.937,1469.36 L865.149,1471.93 L866.257,1474.88 L867.5,1479.6 L868.332,1481.61 L870.66,1483.39 L871.003,1484.56 L871.7,1485.9 L869.591,1487.1 L869.253,1489.38 L867.684,1490.36 L867.5,1492.2 L868.046,1494.41 L869.265,1495.6 L868.323,1497.51 L869.6,1498.5"/><path d="M769,1532 L787.9,1529.9 L790,1548.8 L790,1580"/><path d="M257.9,1020 L260,1026.3 L274.6,1022.1 L289.3,1030.5 L289.3,1038.9 L299.8,1041 L301.9,1047.2 L322.8,1049.3 L322.8,1072.4 L339.6,1072.4 L345.9,1089.1 L350.1,1103.8"/><path d="M387.8,1020 L375.2,1032.6 L350.1,1051.4 L364.7,1061.9 L385.7,1068.2 L410.8,1057.7 L419,1059.8"/><path d="M392,1064 L393.937,1067.26 L393.776,1070.3 L394.362,1073.92 L396.2,1076.6 L395.696,1079.26 L393.524,1082.59 L390.809,1085.45 L389.9,1087.1 L385.455,1087.46 L379.533,1088.59 L375.893,1090.61 L371,1091.2 L366.449,1094.77 L362.345,1096.37 L357.648,1100.12 L354.3,1101.7 L349.298,1105.21 L345.996,1107.08 L341.833,1109.06 L337.5,1112.2 L332.101,1115.38 L325.599,1116.62 L317.77,1119.21 L312.3,1120.6 L309.235,1119.37 L306.53,1116.56 L305.228,1113.61 L301.9,1112.2 L296.755,1111.79 L290.37,1112.55 L287.221,1114.74 L280.9,1114.3 L276.023,1115.98 L270.827,1119.02 L264.965,1120.8 L260,1122.7 L255.418,1125.81 L248.839,1130.98 L243.465,1134.98 L239,1139.4 L234.453,1141.83 L229.643,1145.18 L225.05,1148.48 L220.2,1152 L214.737,1154.13 L209.026,1157.52 L203.886,1161.67 L197.1,1164.6 L194.934,1168.06 L193.172,1172.32 L191.368,1176.1 L188.7,1179.2 L182.919,1181.86 L177.944,1183.13 L171.25,1183.78 L165.7,1185.5 L160.595,1187.97 L155.257,1188.71 L149.801,1191.11 L144.7,1191.8 L141.156,1189.77 L138.896,1190.58 L135.76,1188.86 L132.1,1187.6 L130.054,1188.22 L127.106,1188.75 L123.474,1190.63 L121.7,1191.8 L122.231,1193.67 L121.764,1196.43 L123.333,1197.53 L123.8,1200.2 L125.974,1199.97 L128.419,1199.25 L132.505,1201.23 L134.2,1200.2 L135.09,1204.68 L135.077,1208.22 L135.163,1211.77 L136.3,1214.9 L141.172,1218.91 L144.867,1221.79 L149.647,1224.36 L155.2,1227.4 L158.817,1225.25 L159.887,1224.86 L162.689,1223.29 L165.7,1223.2 L171.794,1221.82 L175.924,1218.73 L181.563,1215.98 L186.6,1214.9 L188.193,1213.68 L191.427,1210.7 L195.43,1209.65 L197.1,1206.5 L201.24,1213.7 L205.05,1223.13 L210.573,1229.38 L213.9,1237.9 L215.168,1241.78 L214.889,1245.58 L216.31,1251.59 L216,1254.7 L218.994,1257.09 L222.621,1259.74 L225.96,1260.13 L230.6,1263.1 L231.097,1265.29 L231.481,1269.11 L231.069,1270.1 L230.6,1273.5 L234.181,1279.19 L236.779,1282.02 L239.441,1287.25 L243.2,1292.4"/><path d="M312.3,1120.6 L343.8,1162.5 L331.2,1170.9 L348,1193.9 L419,1149.9"/><path d="M348,1193.9 L339.538,1201.08 L329.448,1209.02 L321.587,1218.09 L312.3,1225.3 L303.645,1231.96 L296.396,1238.1 L286.579,1243.76 L278.8,1250.5 L276.089,1255.57 L271.009,1260.21 L266.948,1265.66 L264.2,1269.3 L260.919,1273.56 L257.968,1276.7 L254.969,1281.43 L251.6,1286.1 L247.377,1292.54 L243.342,1297.18 L241.137,1302.87 L236.9,1309.2 L234.739,1312.18 L232.86,1315.82 L232.948,1316.8 L230.2,1320.7 L227.616,1322.55 L224.946,1324.24 L222.7,1323.9 L220.2,1325.9 L212.973,1328.84 L205.191,1331.5 L198.773,1333.81 L190.8,1336.4 L186.637,1341.36 L182.855,1344.85 L179.268,1348.28 L174.1,1353.2 L169.99,1360.84 L164.888,1369.37 L159.794,1378.93 L155.2,1386.7 L153.73,1391.52 L150.419,1395.03 L148.287,1399.4 L146.8,1403.4"/><path d="M312.3,1225.3 L350.1,1275.6 L314.4,1302.9 L293.5,1323.8 L295.6,1338.5 L283,1355.3 L280.9,1376.2 L291.4,1388.8 L306.1,1384.6 L316.5,1374.1 L352.2,1405.5 L341.7,1420"/><path d="M419,1363.6 L408.7,1363.6 L375.2,1380.4 L358.4,1386.7 L352.2,1395.1 L352.2,1405.5"/><path d="M104.9,1388.8 L132.1,1395.1 L132.1,1403.4 L146.8,1403.4 L178.2,1411.8 L188.7,1420"/><path d="M653.7,1312.2 L639,1316.4 L613.9,1319.5 L586.6,1320.2 L561.5,1322.7 L538.4,1331.1 L511.2,1345.7 L481.9,1354.1 L463,1361.4 L448.3,1361.4 L440,1364.6 L419,1363.5"/><path d="M561.5,1322.7 L544.7,1299.6 L537.4,1291.2 L551,1280.8 L553.1,1261.9 L548.9,1257.7 L555.2,1245.1 L540.5,1230.5 L548.9,1220"/><path d="M607.6,1220 L586.6,1236.8 L565.7,1245.1 L551,1259.8"/><path d="M680.9,1289.1 L682.473,1291.75 L684.263,1296.92 L685.785,1300.95 L687.2,1303.8 L688.071,1306.18 L689.289,1310.09 L691.781,1313.12 L693.5,1316.4 L694.028,1321.76 L694.66,1326.7 L696.802,1330.6 L697.7,1335.2 L697.292,1339.87 L694.822,1345.28 L693.543,1350.54 L693.5,1356.2 L693.767,1361.51 L692.982,1366.9 L692.595,1372.66 L693.5,1377.2 L693.303,1381.89 L693.802,1388.07 L695.803,1393.51 L695.6,1398.1 L693.06,1400.53 L692.152,1402.73 L691.91,1404.97 L689.3,1408.6 L686.652,1414.4 L685.12,1418.27 L681.327,1424.81 L678.8,1429.5 L673.086,1434.18 L670.258,1439.21 L664.464,1444.81 L660,1450.5 L653.534,1455.32 L646.375,1463.09 L641.679,1468.26 L634.8,1473.5 L630.556,1475.06 L627.614,1477.13 L623.765,1480.75 L620.2,1481.9 L617.801,1484.69 L617.059,1488.44 L612.887,1491.14 L611.8,1494.5 L610.03,1496.68 L607.255,1501.23 L606.302,1504.15 L603.4,1507.1 L601.625,1509.62 L597.914,1513.05 L595.263,1515.52 L592.9,1517.5 L592.274,1518.21 L592.204,1519.71 L592.161,1520 L592.9,1521.7 L589.647,1524.78 L587.229,1527.88 L586.11,1531.54 L582.4,1534.3 L583.723,1536.8 L583.193,1539.66 L584.396,1543.45 L584.5,1546.9 L581.929,1550.02 L579.651,1554.73 L578.04,1560.36 L576.2,1563.6 L576.148,1565.72 L574.844,1568.09 L575.586,1571.17 L574.1,1574.1 L577.285,1576.69 L580.196,1577.24 L581.509,1580.15 L584.5,1582.5 L584.108,1587.02 L585.166,1590.45 L586.117,1592.55 L586.6,1597.2 L586.367,1600.8 L585.59,1604.78 L586.81,1608.69 L586.6,1613.9 L588.287,1615.26 L590.897,1616.15 L593.355,1617.95 L595,1620"/><path d="M592.9,1521.7 L603.4,1523.8 L618.1,1538.5 L630.6,1540.6 L662.1,1544.8 L706.1,1544.8 L716.5,1549 L739.6,1540.6 L760.5,1530.1 L771,1532.2 L787.8,1530.1 L792,1551.1 L789.9,1572 L789.9,1597.2 L787.8,1620"/><path d="M104.9,1388.4 L130.1,1394.7 L132.1,1403 L146.8,1407.2 L174.1,1411.4 L186.6,1419.8 L230.6,1447.1 L266.2,1480.6"/><path d="M146.8,1407.2 L148.9,1396.8 L161.5,1380"/><path d="M375.2,1380 L371.496,1382.47 L366.024,1383.55 L362.117,1386.77 L358.4,1388.4 L356.642,1390.25 L356.105,1392 L353.293,1394.36 L352.2,1396.8 L351.575,1398.39 L351.154,1402.29 L352.345,1405.28 L352.2,1407.2 L348.521,1412.01 L343.125,1418.62 L337.401,1423.37 L333.3,1428.2 L328.417,1431.83 L323.61,1432.87 L317.842,1435.17 L312.3,1438.7 L307.966,1438.46 L302.982,1438.44 L299.397,1438.69 L295.6,1438.7 L292.491,1442.65 L290.135,1448.05 L286.992,1453.16 L285.1,1457.5 L280.853,1460.28 L277.402,1464.68 L273.307,1468.71 L270.4,1472.2 L269.793,1474.42 L268.74,1475.35 L267.011,1478.2 L266.2,1480.6 L260.538,1483.01 L255.82,1485.84 L252.289,1488.41 L247.4,1491.1 L244.391,1493.16 L241.102,1495.96 L240.387,1499.04 L236.9,1501.5 L234.276,1505.54 L232.009,1508.78 L230.854,1513.53 L228.5,1516.2 L225.598,1519.52 L224.273,1523.1 L220.98,1525.92 L218.1,1528.8 L216.329,1532.26 L214.458,1536.83 L214.21,1539.49 L211.8,1543.4 L211.651,1545.01 L208.899,1548.67 L208.229,1550.97 L207.6,1553.9 L204.974,1557.85 L199.573,1562.75 L196.971,1567.49 L192.9,1572.8 L190.752,1575 L190.567,1576.43 L189.736,1579.43 L188.7,1581.2 L188.281,1586.17 L187.784,1591.33 L188.156,1594.93 L186.6,1600 L184.688,1603.47 L183.039,1605.73 L182.305,1608.29 L180.3,1610.5 L179.771,1614.89 L176.451,1618.12 L175.629,1621.67 L174.1,1625.2 L172.763,1625.75 L172.548,1627.32 L170.371,1627.72 L169.9,1629.3 L166.89,1632.79 L164.68,1636.88 L161.064,1640.95 L159.4,1646.1 L152.75,1650.23 L146.998,1653.34 L142.674,1657.08 L136.3,1660.8 L133.483,1665.78 L132.964,1668.17 L129.534,1673.34 L128,1677.5 L126.027,1682.51 L123.225,1687.45 L120.6,1692.87 L117.5,1698.5 L112.409,1704.3 L108.804,1709.67 L103.473,1714 L98.6,1719.4 L89.6302,1723.87 L80.4782,1728.46 L69.5005,1731.73 L60.9,1736.2 L50.7976,1739.28 L39.2562,1742.48 L29.6632,1748.2 L19,1750.9"/><path d="M266.2,1480.6 L269.86,1480.32 L271.863,1481.47 L274.364,1481.95 L276.7,1482.7 L279.753,1485.35 L279.907,1486.32 L282.16,1486.42 L285.1,1489 L285.679,1491.58 L288.286,1492.31 L287.876,1494.18 L289.3,1497.3 L292.544,1498.84 L295.322,1500.03 L299.411,1502.77 L301.9,1503.6 L302.999,1505.99 L305.309,1509.43 L307.683,1511.23 L308.2,1514.1 L311.752,1517.35 L315.11,1519.62 L316.86,1522.69 L320.7,1526.7 L323.754,1526.68 L324.874,1526.91 L326.612,1527.22 L329.1,1528.8 L331.345,1531.67 L333.576,1535.6 L334.801,1539.71 L337.5,1543.4 L340.88,1544.45 L343.863,1545.59 L349.389,1547.71 L352.2,1549.7 L354.923,1552.68 L359.464,1558.14 L362.495,1561.53 L366.8,1564.4 L369.915,1569.44 L373.775,1574.62 L375.277,1580.19 L379.4,1585.3 L381.845,1589.77 L383.11,1594.67 L386.502,1598.99 L387.8,1602.1 L391.85,1605.98 L396.645,1607.69 L399.284,1610.82 L404.5,1614.7 L407.286,1614.81 L411.44,1617.36 L414.957,1617.88 L419,1618.9"/><path d="M75.6,1493.1 L76.623,1494.04 L80.8104,1495.17 L81.96,1498.51 L84,1499.4 L85.668,1497.84 L85.8284,1495.92 L87.7959,1493.76 L88.1,1491.1 L92.8441,1489.17 L96.4408,1488.78 L99.5766,1487.4 L102.8,1486.9 L105.276,1487.4 L106.119,1489.4 L107.279,1491.26 L109.1,1493.1 L116.245,1494.83 L122.402,1495.5 L129.179,1495.76 L136.3,1497.3 L138.241,1494.83 L137.507,1492.79 L139.982,1490.44 L140.5,1489 L146.285,1489.63 L151.396,1489.34 L155.383,1489.79 L161.5,1491.1 L173.221,1494.07 L184.521,1497.36 L197.437,1500.08 L209.7,1503.6 L205.582,1509.85 L200.65,1514.94 L196.706,1519.91 L192.9,1524.6 L190.463,1530.37 L189.596,1535.02 L187.558,1538.5 L186.6,1543.4 L188.103,1544.79 L188.201,1547.99 L190.735,1549.31 L190.8,1551.8 L193.254,1550.96 L198.177,1549.98 L200.546,1549.96 L203.4,1549.7 L204.767,1550.12 L205.756,1552.65 L207.334,1553.13 L207.6,1553.9"/><path d="M169.9,1629.3 L190.8,1629.3 L186.6,1652.4 L230.6,1669.2 L234.8,1715.3 L224.3,1755.1"/><path d="M283,1380 L293.5,1390.5 L314.4,1380"/><path d="M318.6,1380 L352.2,1407.2"/><path d="M142.6,1755.1 L169.9,1746.7 L197.1,1740.4 L224.3,1755.1"/><path d="M224.3,1755.1 L249.5,1746.7 L270.4,1746.7 L280.9,1755.1"/><path d="M693.5,1380 L694.036,1382.77 L693.701,1385.99 L695.493,1387.77 L695.6,1390.5 L694.914,1393.45 L693.246,1396.16 L692.671,1400.04 L691.4,1403 L688.809,1406.7 L686.43,1412.33 L683.73,1417.38 L680.9,1421.9 L676.625,1427.43 L670.381,1435.58 L665.749,1440.39 L660,1447.1 L654.221,1454.45 L647.185,1460.46 L640.279,1467 L634.8,1472.2 L631.13,1473.72 L628.248,1476.73 L624.813,1479.22 L620.2,1480.6 L619.805,1482.73 L619.186,1483.84 L617.864,1487.37 L616,1489 L612.827,1492.8 L610.649,1495.33 L608.929,1497.71 L605.5,1501.5 L602.39,1504.44 L599.312,1506.87 L598.257,1509.35 L595,1512 L593.907,1514.76 L594.731,1516.8 L593.533,1519.19 L592.9,1520.4 L590.928,1522.78 L587.355,1525.82 L584.006,1529.51 L582.4,1533 L583.728,1537.38 L582.608,1539.6 L583.73,1544.72 L584.5,1547.6 L582.683,1552.16 L579.408,1556.02 L577.63,1558.91 L576.2,1562.3 L576.503,1565.43 L574.484,1567.92 L574.473,1569.11 L574.1,1572.8 L576.347,1574.99 L579.585,1577.51 L582.127,1581.03 L584.5,1583.2 L584.322,1585.01 L585.976,1588.38 L585.259,1590.23 L586.6,1593.7 L588.095,1598.14 L587.337,1601.43 L589.264,1606.72 L588.7,1610.5 L590.795,1611.24 L591.433,1612.4 L592.647,1613.94 L595,1614.7 L593.784,1615.93 L592.7,1615.65 L591.864,1617.25 L590.8,1616.8 L590.987,1621.42 L591.267,1625.32 L591.902,1630.14 L592.9,1633.5 L592.955,1639 L594.339,1642.85 L595.429,1647.43 L595,1652.4 L593.435,1655.25 L590.687,1656.69 L588.522,1659.79 L586.6,1662.9 L585.945,1667.55 L585.095,1670.63 L585.404,1673.29 L584.5,1677.5 L583.255,1679.84 L583.27,1683.25 L581.175,1686.6 L580.3,1690.1 L578.405,1691.4 L575.3,1691.25 L571.619,1692.55 L569.9,1692.2 L568.469,1694 L568.574,1696.89 L568.697,1698.16 L567.8,1700.6 L567.625,1705.26 L564.651,1708.24 L564.582,1711.32 L563.6,1715.3 L558.273,1716.97 L553.476,1719.68 L548.885,1722.57 L542.6,1723.6 L543.159,1726.52 L542.273,1730.23 L541.467,1734.14 L540.5,1736.2 L540.596,1737.69 L542.383,1739.69 L543.03,1742 L544.7,1742.5 L544.586,1745.89 L544.965,1749.62 L546.807,1752.61 L546.8,1757.2"/><path d="M592.9,1520.4 L594.792,1521.78 L598.421,1523.03 L600.232,1524.23 L603.4,1524.6 L607.583,1528.86 L609.913,1531.83 L613.36,1536.34 L618.1,1539.2 L622.203,1540.6 L623.303,1539.92 L627.554,1540.85 L630.6,1541.3 L637.62,1542.99 L645.913,1543.42 L653.399,1544.6 L662.1,1545.5 L672.285,1544.59 L684.127,1545.05 L695.71,1544.94 L706.1,1545.5 L708.511,1545.57 L710.679,1547.49 L714.028,1548.56 L716.5,1549.7 L723.047,1546.2 L728.82,1543.69 L734.86,1541.88 L739.6,1539.2 L744.619,1537.1 L750.85,1535.52 L755.084,1531.07 L760.5,1529.8 L766.563,1530.5 L774.666,1530.27 L780.219,1529.87 L787.8,1529.8 L787.813,1534.44 L789.462,1541.83 L791.265,1547.06 L792,1551.8 L790.476,1556.87 L790.022,1561.77 L789.571,1568.47 L789.9,1572.8 L788.998,1578.53 L789.189,1585.15 L789.307,1590.2 L787.8,1595.8 L788.327,1600.36 L788.618,1602.71 L789.902,1606.29 L789.9,1610.5 L788.559,1612.97 L787.749,1615.44 L786.597,1618.27 L785.7,1621 L786.809,1623.81 L788.936,1625.21 L792.105,1627 L794.1,1629.3"/><path d="M419,1621 L420.49,1621.17 L422.918,1622.69 L425.265,1623.56 L427.4,1625.2 L431.599,1625.67 L433.62,1625.99 L439.376,1625.62 L442,1627.2 L445.88,1631.89 L449.054,1634.77 L452.737,1637.79 L456.7,1641.9 L461.665,1643.67 L465.743,1645.04 L470.911,1647.18 L475.6,1648.2 L475.667,1649.4 L477.154,1651.89 L479.4,1654.34 L479.8,1656.6 L482.167,1659.54 L482.479,1663.3 L483.613,1667.12 L486.1,1669.2 L487.329,1671.42 L486.698,1675.1 L488.234,1677.31 L488.1,1679.6 L490.275,1684.9 L493.405,1689.32 L497.665,1694.72 L500.7,1698.5 L503.105,1699.02 L505.856,1702.21 L507.176,1702.14 L509.1,1704.8 L512.771,1705.15 L515.795,1706.91 L519.467,1705.44 L521.7,1706.9 L523.894,1708.87 L525.403,1710.83 L526.31,1713.06 L528,1715.3 L530.285,1712.8 L534.766,1710.16 L536.53,1709.73 L540.5,1706.9 L544.016,1707.53 L545.949,1707.11 L549.532,1709.47 L553.1,1709 L555.857,1711.5 L557.715,1711.96 L561.055,1714.47 L563.6,1715.3"/><path d="M427.4,1757.2 L444.1,1744.6 L456.7,1740.4 L473.5,1746.7 L479.8,1757.2"/><path d="M1110.2,927.8 L1108.92,931.847 L1109.24,933.219 L1108.7,937.206 L1108.4,940.7 L1111.06,943.467 L1112.94,944.767 L1114.98,946.788 L1117.5,948 L1116.18,954.033 L1115.87,959.189 L1115.49,964.162 L1115.7,970 L1114.04,970.594 L1114.05,971.894 L1112.68,972.938 L1112,973.7 L1113.23,974.313 L1113.13,975.507 L1114.48,976.097 L1113.9,977.4 L1119.36,978.189 L1123.42,980.657 L1129.14,980.991 L1134,982.9 L1136.72,983.615 L1141.08,983.376 L1144.88,983.159 L1148.7,982.9 L1150.21,986.222 L1152.35,987.353 L1152.8,989.134 L1154.2,992 L1158.43,992.975 L1161.12,996.464 L1164.2,997.987 L1168.9,999.4 L1168.57,1005.01 L1167.58,1009.63 L1168.47,1016.48 L1167,1021.4 L1164.02,1020.96 L1160.32,1021.68 L1155.39,1022.83 L1152.4,1023.2 L1152.17,1025.12 L1152.03,1028.88 L1151.85,1032.38 L1150.5,1034.2 L1148.64,1033.45 L1146.94,1033.78 L1143.21,1033.64 L1141.4,1032.4 L1139.15,1029.13 L1135.35,1025.84 L1133.23,1023.61 L1130.4,1021.4 L1127.64,1019.01 L1124.99,1017.67 L1123,1015.38 L1121.2,1014 L1119.79,1017.7 L1120.17,1020.6 L1119.22,1025.81 L1117.5,1028.7 L1113.17,1030.87 L1108.86,1032.93 L1104.13,1035.85 L1099.2,1037"/><path d="M1156,992 L1183.5,975.5 L1181.7,966.4 L1198.2,955.4 L1203.7,962.7 L1269,922.3"/><path d="M1167,1019.5 L1203.7,1023.2 L1201.9,1037.9 L1196.4,1039.7 L1161.5,1102.1 L1179.9,1103.9 L1185.4,1129.6 L1181.7,1153.4 L1174.4,1157.1"/><path d="M1201.9,1037.9 L1247.7,1045.2 L1256.9,1091.1"/><path d="M1247.7,1045.2 L1253.2,1047 L1269,1028.7"/><path d="M1205.6,896.7 L1207.4,904 L1222.1,913.2 L1244.1,915 L1269,918.7"/><path d="M969,1061.7 L972.805,1056.12 L974.42,1052.56 L978.298,1047.18 L981.8,1041.5 L986.714,1043.7 L992.515,1046.6 L999.276,1048.41 L1003.8,1050.7 L1005.8,1053.12 L1006.91,1057.19 L1008.49,1059.92 L1011.2,1061.7 L1017.5,1061.68 L1023.98,1062.67 L1029.19,1063.64 L1035,1065.4 L1038.83,1067.73 L1041.32,1069.94 L1043.62,1072.7 L1046,1076.4 L1046.34,1078.86 L1049.81,1081.41 L1050.91,1083.93 L1051.5,1085.6 L1054.77,1085.57 L1058.01,1086.71 L1061.23,1087.98 L1064.4,1089.2 L1067.15,1087.63 L1070.35,1087.22 L1072.62,1085.57 L1075.4,1085.6 L1078.57,1090.75 L1082.84,1095.79 L1084.2,1100.24 L1088.2,1105.7 L1086.91,1111.64 L1087.32,1117.75 L1086.41,1123.14 L1084.5,1127.7 L1089.41,1123.63 L1091.69,1117.63 L1097.07,1113.03 L1101,1107.6"/><path d="M858.1,1065.7 L847.2,1094.9 L832.6,1127.8 L807,1157 L796,1182.5 L781.4,1199 L748.6,1228.2 L712.1,1261 L675.6,1292.1 L653.7,1312.2"/>
</g>
<g fill="none" stroke="#c8c8c8" stroke-width="5" stroke-linejoin="round" stroke-linecap="round" transform="translate(-2,-1.5)">
<path d="M21,556.3 C21.8,556.1 23.4,555.9 25.0249,555.5 C26.7,555.1 27.9,555.4 29.2474,554.536 C30.6,553.6 30.0,550.7 31.6,551 C33.2,551.3 35.9,554.8 37.4263,556.223 C39.0,557.6 37.7,556.9 39.4494,557.929 C41.2,559.0 43.5,561.0 46.2,561.6 C48.9,562.2 50.6,561.6 52.9068,560.763 C55.2,559.9 56.1,557.9 57.6703,557.186 C59.3,556.5 59.7,558.2 61,557.3 C62.3,556.4 62.9,554.1 64.3429,552.786 C65.8,551.4 66.7,551.8 68.1084,550.596 C69.5,549.4 70.4,548.0 71.4,546.8 C72.4,545.6 71.7,544.7 72.9525,544.634 C74.2,544.6 75.7,546.6 77.5179,546.399 C79.3,546.2 80.3,544.0 81.9,543.7 C83.5,543.4 84.4,544.1 85.7296,544.772 C87.1,545.5 87.7,545.9 88.6219,547.122 C89.5,548.4 88.8,549.4 90.2,551 C91.6,552.6 94.0,552.6 95.6031,555.107 C97.2,557.6 96.2,561.1 98.0738,563.686 C100.0,566.2 103.0,567.4 105,567.8 C107.0,568.2 106.0,565.7 108.004,565.595 C110.1,565.5 113.4,567.4 115.263,567.156 C117.2,567.0 116.2,564.4 117.5,564.6 C118.8,564.8 119.5,567.4 121.524,568.246 C123.5,569.1 125.3,568.6 127.39,568.911 C129.5,569.3 130.6,568.5 132.1,570 C133.6,571.5 133.3,574.3 135.119,576.631 C137.0,579.0 139.3,580.0 141.263,581.6 C143.2,583.2 142.9,583.3 144.7,584.6 C146.5,585.9 148.9,586.6 150.475,587.995 C152.0,589.4 151.2,589.8 152.545,591.664 C153.9,593.5 156.1,596.2 157.3,597.2 C158.5,598.2 157.7,596.2 158.683,596.827 C159.6,597.5 160.7,599.5 162.105,600.346 C163.5,601.2 164.8,600.5 165.7,601.3 C166.6,602.1 165.5,603.4 166.48,604.112 C167.5,604.8 169.1,604.0 170.585,604.74 C172.1,605.4 172.8,606.2 174,607.6 C175.2,609.0 176.3,610.0 176.674,611.656 C177.1,613.3 175.8,614.1 176.063,615.792 C176.4,617.5 176.5,619.4 178.2,620 C179.9,620.6 182.0,619.0 184.619,618.928 C187.2,618.8 189.2,618.9 191.3,619.491 C193.4,620.1 193.5,620.7 195,622.1 C196.5,623.5 198.1,624.9 198.799,626.28 C199.5,627.6 197.8,628.0 198.672,628.851 C199.6,629.7 202.1,629.3 203.4,630.5 C204.7,631.7 204.5,633.7 204.965,634.981 C205.4,636.3 204.7,635.4 205.636,637.02 C206.6,638.6 208.3,641.6 209.7,643 C211.1,644.4 211.2,644.2 212.59,644.154 C214.0,644.1 214.9,643.3 216.819,642.69 C218.7,642.1 220.4,640.6 222.2,641 C224.0,641.4 225.3,644.1 226.019,644.835 C226.7,645.5 225.3,644.1 225.778,644.553 C226.3,645.0 227.8,645.8 228.5,647.2 C229.2,648.6 229.3,650.2 229.299,651.802 C229.3,653.4 228.1,654.0 228.332,655.194 C228.6,656.4 229.2,656.5 230.6,657.7 C232.0,658.9 234.3,660.0 235.289,661.239 C236.3,662.4 234.6,663.1 235.747,663.683 C236.9,664.2 239.1,663.5 241.1,664 C243.1,664.5 243.2,664.7 245.765,666.163 C248.4,667.6 251.3,670.0 254.143,671.272 C257.0,672.5 258.7,671.1 260,672.4 C261.3,673.7 260.2,676.3 260.76,677.597 C261.4,678.8 262.3,677.6 262.981,678.65 C263.7,679.7 263.4,681.8 264.2,682.9 C265.0,684.0 265.9,683.6 266.934,684.377 C268.0,685.2 267.9,685.7 269.446,687.029 C271.0,688.4 272.7,689.4 274.6,691.2 C276.5,693.0 277.7,695.2 278.857,695.987 C280.0,696.7 279.0,694.3 280.246,694.994 C281.5,695.7 283.3,697.8 285.1,699.6 C286.9,701.4 288.4,702.5 289.147,703.934 C289.9,705.4 288.5,705.3 288.924,706.949 C289.4,708.6 290.5,710.3 291.4,712.2 C292.3,714.1 292.7,715.2 293.176,716.305 C293.7,717.4 293.5,716.6 294.023,717.487 C294.5,718.3 294.5,719.4 295.6,720.6 C296.7,721.8 297.5,723.1 299.389,723.664 C301.2,724.2 302.3,723.1 304.864,723.374 C307.4,723.6 309.8,724.0 312.3,724.8 C314.8,725.6 315.6,725.5 317.154,727.489 C318.7,729.5 319.1,733.0 320.227,734.933 C321.4,736.9 322.3,736.8 322.8,737.3"/><path d="M368.9,620 C369.5,616.7 371.6,613.7 371,607.6 C370.4,601.5 364.6,601.1 366.8,597.2 C369.0,593.3 378.8,597.5 379.4,593 C380.0,588.5 371.1,587.1 368.9,580.4 C366.7,573.7 366.5,573.9 371,567.8 C375.5,561.7 380.7,563.0 385.7,557.4 C390.7,551.8 390.2,551.9 389.9,546.9 C389.6,541.9 385.2,544.7 384.6,538.5 C384.0,532.3 383.1,529.4 387.8,523.8 C392.5,518.2 397.9,520.9 402.4,517.5 C406.9,514.1 408.4,516.2 404.5,511.2 C400.6,506.2 388.9,503.7 387.8,498.7 C386.7,493.7 394.8,498.0 400.4,492.4 C406.0,486.8 403.7,483.3 408.7,477.7 C413.7,472.1 410.7,475.9 419,471.4 C427.3,466.9 429.4,467.1 440,461 C450.6,454.9 450.4,453.7 458.8,448.4 C467.2,443.1 465.4,442.7 471.4,441 C477.4,439.3 479.0,444.5 481.2,442 C483.4,439.5 483.3,436.3 479.8,431.6 C476.3,426.9 469.9,429.3 468.2,424.3 C466.5,419.3 468.8,417.5 473.5,412.8 C478.2,408.1 484.9,411.0 486,406.5 C487.1,402.0 478.8,401.6 477.7,396 C476.6,390.4 476.3,391.1 481.9,385.5 C487.5,379.9 495.3,382.3 498.6,375 C501.9,367.7 496.9,364.7 494.4,358.3 C491.9,351.9 487.0,352.1 489.2,351 C491.4,349.9 495.3,356.6 502.8,354.1 C510.3,351.6 513.0,346.8 517.5,341.5 C522.0,336.2 522.4,336.1 519.6,334.2 C516.8,332.3 508.7,337.8 507,334.2 C505.3,330.6 506.6,324.8 513.3,320.6 C520.0,316.4 526.1,321.9 532.2,318.5 C538.3,315.1 535.2,313.3 536.3,308 C537.4,302.7 533.5,300.5 536.3,298.6 C539.1,296.7 541.8,299.6 546.8,300.7 C551.8,301.8 551.8,305.3 555.2,302.8 C558.6,300.3 556.0,295.4 559.4,291.2 C562.8,287.0 565.6,292.0 567.8,287 C570.0,282.0 567.2,281.3 567.8,272.4 C568.4,263.5 569.9,262.4 569.9,253.5 C569.9,244.6 571.7,246.2 567.8,238.9 C563.9,231.6 561.4,230.8 555.2,226.3 C549.0,221.8 547.5,223.2 544.7,222.1"/><path d="M1422.5,620 C1426.4,616.7 1428.8,616.5 1437.2,607.6 C1445.6,598.7 1449.5,596.7 1454,586.7 C1458.5,576.7 1451.8,578.4 1454,570 C1456.2,561.6 1457.8,562.0 1462.3,555.3 C1466.8,548.6 1470.7,549.8 1470.7,544.8 C1470.7,539.8 1465.1,540.9 1462.3,536.4 C1459.5,531.9 1458.6,531.9 1460.3,528 C1462.0,524.1 1463.0,525.6 1468.6,521.7 C1474.2,517.8 1479.0,517.2 1481.2,513.3 C1483.4,509.4 1480.9,511.5 1477,507 C1473.1,502.5 1470.4,501.6 1466.5,496.6 C1462.6,491.6 1460.6,494.4 1462.3,488.2 C1464.0,482.0 1470.0,481.9 1472.8,473.5 C1475.6,465.1 1475.6,465.7 1472.8,456.8 C1470.0,447.9 1464.5,446.7 1462.3,440 C1460.1,433.3 1460.5,435.0 1464.4,431.6 C1468.3,428.2 1471.8,430.5 1477,427.4 C1482.2,424.3 1482.9,425.0 1484,420 C1485.1,415.0 1479.1,418.9 1481.2,408.6 C1483.3,398.3 1491.1,392.5 1491.7,381.3 C1492.3,370.1 1487.2,376.2 1483.3,366.7 C1479.4,357.2 1480.4,355.2 1477,345.7 C1473.6,336.2 1470.7,337.1 1470.7,331 C1470.7,324.9 1471.4,323.8 1477,322.7 C1482.6,321.6 1486.6,328.6 1491.7,326.9 C1496.8,325.2 1496.0,322.6 1496,316.4 C1496.0,310.2 1490.0,307.7 1491.7,303.8 C1493.4,299.9 1496.6,300.6 1502.2,301.7 C1507.8,302.8 1506.5,304.6 1512.6,308 C1518.7,311.4 1518.5,308.7 1525.2,314.3 C1531.9,319.9 1533.3,322.9 1537.8,329 C1542.3,335.1 1540.3,338.4 1542,337.3 C1543.7,336.2 1541.2,330.4 1544,324.8 C1546.8,319.2 1548.5,322.0 1552.4,316.4 C1556.3,310.8 1554.3,307.2 1558.7,303.8 C1563.1,300.4 1566.3,303.8 1569,303.8"/><path d="M371,620 C373.2,621.7 375.5,621.3 379.4,626.3 C383.3,631.3 386.8,633.3 385.7,638.9 C384.6,644.5 376.3,641.6 375.2,647.2 C374.1,652.8 384.9,656.4 381.5,659.8 C378.1,663.2 368.8,658.7 362.6,659.8 C356.4,660.9 358.4,655.6 358.4,664 C358.4,672.4 364.3,681.7 362.6,691.2 C360.9,700.7 355.5,695.1 352.2,699.6 C348.9,704.1 352.9,704.1 350.1,708 C347.3,711.9 346.2,710.9 341.7,714.3 C337.2,717.7 333.9,716.7 333.3,720.6 C332.7,724.5 339.0,724.5 339.6,729 C340.2,733.5 339.9,734.5 335.4,737.3 C330.9,740.1 326.7,737.7 322.8,739.4 C318.9,741.1 328.5,739.1 320.7,743.6 C312.9,748.1 301.9,751.2 293.5,756.2 C285.1,761.2 288.7,756.4 289.3,762.5 C289.9,768.6 297.3,773.1 295.6,779.2 C293.9,785.3 286.4,780.5 283,785.5 C279.6,790.5 285.2,795.9 283,798.1 C280.8,800.3 278.5,794.5 274.6,793.9 C270.7,793.3 269.4,789.8 268.3,796 C267.2,802.2 276.0,810.3 270.4,817 C264.8,823.7 255.8,817.9 247.4,821.2 C239.0,824.5 241.8,823.9 239,829.5 C236.2,835.1 234.1,836.5 236.9,842.1 C239.7,847.7 243.9,845.5 249.5,850.5 C255.1,855.5 256.2,852.6 257.9,861 C259.6,869.4 257.5,873.5 255.8,881.9 C254.1,890.3 257.8,886.2 251.6,892.4 C245.4,898.6 241.6,900.5 232.7,905 C223.8,909.5 226.5,907.0 218.1,909.2 C209.7,911.4 207.5,910.0 201.3,913.3 C195.1,916.6 199.5,916.7 195,921.7 C190.5,926.7 189.0,927.2 184.5,932.2 C180.0,937.2 181.5,935.6 178.2,940.6 C174.9,945.6 173.7,943.8 172,951.1 C170.3,958.4 170.9,961.1 172,967.8 C173.1,974.5 176.2,971.2 176.2,976.2 C176.2,981.2 172.6,981.7 172,986.7 C171.4,991.7 170.2,990.6 174.1,995.1 C178.0,999.6 181.6,996.8 186.6,1003.4 C191.6,1010.0 191.2,1015.6 192.9,1020"/><path d="M419,869.3 C412.9,869.9 407.9,870.3 396.2,871.4 C384.5,872.5 386.4,874.6 375.2,873.5 C364.0,872.4 365.5,867.8 354.3,867.2 C343.1,866.6 341.1,868.6 333.3,871.4 C325.5,874.2 330.5,876.0 324.9,877.7 C319.3,879.4 318.4,879.4 312.3,877.7 C306.2,876.0 308.0,872.5 301.9,871.4 C295.8,870.3 297.7,870.7 289.3,873.5 C280.9,876.3 280.5,876.9 270.4,881.9 C260.3,886.9 256.6,889.6 251.6,892.4"/><path d="M419,868.2 C424.0,867.6 427.8,866.1 437.9,866.1 C448.0,866.1 446.1,866.5 456.7,868.2 C467.3,869.9 469.3,868.5 477.7,872.4 C486.1,876.3 480.3,879.0 488.1,882.9 C495.9,886.8 495.8,885.4 507,887.1 C518.2,888.8 520.0,885.8 530.1,889.1 C540.2,892.4 535.2,894.0 544.7,899.6 C554.2,905.2 552.8,904.6 565.7,910.1 C578.6,915.6 578.9,917.4 592.9,920.2 C606.9,923.0 604.1,921.6 618.1,920.6 C632.1,919.6 631.4,912.5 645.3,916.4 C659.2,920.3 658.1,928.5 670.4,935.2 C682.7,941.9 680.2,939.3 691.4,941.5 C702.6,943.7 701.1,944.2 712.3,943.6 C723.5,943.0 723.2,941.1 733.3,939.4 C743.4,937.7 745.6,937.9 750.1,937.3"/><path d="M713.1,944.3 C719.8,943.5 726.4,945.0 738.1,941.2 C749.8,937.4 748.6,935.2 756.9,930.2 C765.2,925.2 761.9,924.1 769.4,922.4 C776.9,920.7 776.7,920.2 785,924 C793.3,927.8 792.4,929.8 800.7,936.5 C809.0,943.2 808.0,945.2 816.3,949 C824.6,952.8 827.0,953.9 832,950.6 C837.0,947.3 831.8,941.1 835.1,936.5 C838.4,931.9 836.2,936.3 844.5,933.4 C852.8,930.5 858.1,925.5 866.4,925.5 C874.7,925.5 868.3,927.1 875.8,933.4 C883.3,939.7 887.1,939.8 894.6,949 C902.1,958.2 896.5,958.6 904,967.8 C911.5,977.0 913.6,980.1 922.8,983.4 C932.0,986.7 931.7,987.8 938.4,980.3 C945.1,972.8 942.1,969.5 947.8,955.3 C953.5,941.1 954.9,938.7 959.8,926.9 C964.7,915.1 960.2,917.3 966,911 C971.8,904.7 972.6,909.6 981.7,903.4 C990.8,897.2 992.1,892.5 1000,887.8 C1007.9,883.1 1001.9,886.8 1011.2,885.7 C1020.5,884.6 1026.7,881.9 1035,883.8 C1043.3,885.7 1035.4,889.1 1042.3,893 C1049.2,896.9 1050.9,897.5 1060.7,898.5 C1070.5,899.5 1072.7,895.2 1079,896.7 C1085.3,898.2 1079.6,899.1 1084.5,904 C1089.4,908.9 1090.1,909.6 1097.4,915 C1104.7,920.4 1103.2,919.8 1112,924.2 C1120.8,928.6 1122.1,934.0 1130.4,931.5 C1138.7,929.0 1134.9,922.3 1143.2,915 C1151.5,907.7 1151.7,909.9 1161.5,904 C1171.3,898.1 1173.0,899.9 1179.9,893 C1186.8,886.1 1186.2,886.1 1187.2,878.3 C1188.2,870.5 1185.0,868.6 1183.5,863.7 C1182.0,858.8 1182.2,861.0 1181.7,860"/><path d="M738.1,941.2 C743.1,943.3 749.4,942.7 756.9,949 C764.4,955.3 759.6,958.0 766.3,964.7 C773.0,971.4 773.6,969.9 781.9,974.1 C790.2,978.3 788.4,981.2 797.6,980.3 C806.8,979.4 806.3,974.2 816.3,970.9 C826.3,967.6 827.6,970.3 835.1,967.8 C842.6,965.3 843.7,966.5 844.5,961.5 C845.3,956.5 841.5,951.9 838.2,949 C834.9,946.1 833.7,950.2 832,950.6"/><path d="M1040.5,891.2 C1040.0,895.1 1040.2,897.0 1038.7,905.8 C1037.2,914.6 1034.5,915.4 1035,924.2 C1035.5,933.0 1035.1,929.6 1040.5,938.9 C1045.9,948.2 1039.1,930.2 1055.2,959 C1071.3,987.8 1089.7,1019.6 1101,1047 C1112.3,1074.4 1096.9,1055.3 1097.4,1061.7 C1097.9,1068.1 1101.9,1064.5 1102.9,1070.9 C1103.9,1077.3 1100.0,1077.3 1101,1085.6 C1102.0,1093.9 1100.6,1089.9 1106.5,1102.1 C1112.4,1114.3 1114.7,1119.2 1123,1131.4 C1131.3,1143.6 1127.4,1138.1 1137.7,1147.9 C1148.0,1157.7 1152.7,1164.7 1161.5,1168.1 C1170.3,1171.5 1165.8,1159.7 1170.7,1160.7 C1175.6,1161.7 1175.0,1172.7 1179.9,1171.7 C1184.8,1170.7 1182.7,1163.9 1189,1157.1 C1195.3,1150.3 1196.3,1147.1 1203.7,1146.1 C1211.1,1145.1 1206.8,1158.8 1216.6,1153.4 C1226.4,1148.0 1235.0,1136.6 1240.4,1125.9 C1245.8,1115.2 1232.8,1121.4 1236.7,1113.1 C1240.6,1104.8 1246.5,1100.1 1255.1,1094.7 C1263.7,1089.3 1265.3,1093.4 1269,1092.9"/><path d="M1169,898.7 C1171.2,894.8 1174.0,892.4 1177.4,884 C1180.8,875.6 1182.2,875.6 1181.6,867.2 C1181.0,858.8 1178.1,859.3 1175.3,852.6 C1172.5,845.9 1171.1,847.7 1171.1,842.1 C1171.1,836.5 1171.4,837.2 1175.3,831.6 C1179.2,826.0 1182.4,826.2 1185.8,821.2 C1189.2,816.2 1184.0,815.0 1187.9,812.8 C1191.8,810.6 1193.1,812.2 1200.4,812.8 C1207.7,813.4 1210.1,817.1 1215.1,814.9 C1220.1,812.7 1218.2,810.6 1219.3,804.4 C1220.4,798.2 1217.1,798.5 1219.3,791.8 C1221.5,785.1 1222.1,785.3 1227.7,779.2 C1233.3,773.1 1232.4,772.1 1240.2,768.8 C1248.0,765.5 1249.2,768.4 1257,766.7 C1264.8,765.0 1263.4,764.7 1269.6,762.5 C1275.8,760.3 1274.0,757.2 1280.1,758.3 C1286.2,759.4 1286.5,764.5 1292.6,766.7 C1298.7,768.9 1296.9,767.8 1303.1,766.7 C1309.3,765.6 1311.2,765.9 1315.7,762.5 C1320.2,759.1 1319.9,759.7 1319.9,754.1 C1319.9,748.5 1317.4,747.1 1315.7,741.5 C1314.0,735.9 1311.9,737.6 1313.6,733.1 C1315.3,728.6 1315.9,729.3 1322,724.8 C1328.1,720.3 1329.3,720.9 1336.6,716.4 C1343.9,711.9 1341.4,710.2 1349.2,708 C1357.0,705.8 1359.9,709.7 1366,708 C1372.1,706.3 1369.4,706.7 1372.2,701.7 C1375.0,696.7 1375.3,695.8 1376.4,689.1 C1377.5,682.4 1373.6,682.2 1376.4,676.6 C1379.2,671.0 1380.2,671.6 1386.9,668.2 C1393.6,664.8 1394.9,663.4 1401.6,664 C1408.3,664.6 1406.5,670.9 1412.1,670.3 C1417.7,669.7 1418.6,666.9 1422.5,661.9 C1426.4,656.9 1426.7,657.0 1426.7,651.4 C1426.7,645.8 1424.2,646.6 1422.5,641 C1420.8,635.4 1419.3,636.1 1420.4,630.5 C1421.5,624.9 1425.0,622.8 1426.7,620"/><path d="M1384.8,1020 C1384.2,1014.5 1381.0,1007.1 1382.7,999.3 C1384.4,991.5 1386.1,995.4 1391.1,990.9 C1396.1,986.4 1397.7,986.4 1401.6,982.5 C1405.5,978.6 1404.7,980.7 1405.8,976.2 C1406.9,971.7 1404.1,971.3 1405.8,965.7 C1407.5,960.1 1408.8,955.9 1412.1,955.3 C1415.4,954.7 1415.0,958.0 1418.3,963.6 C1421.6,969.2 1419.0,971.7 1424.6,976.2 C1430.2,980.7 1432.0,980.4 1439.3,980.4 C1446.6,980.4 1446.9,980.7 1451.9,976.2 C1456.9,971.7 1456.5,969.7 1458.2,963.6 C1459.9,957.5 1456.0,957.7 1458.2,953.2 C1460.4,948.7 1462.0,947.5 1466.5,946.9 C1471.0,946.3 1472.7,953.3 1474.9,951.1 C1477.1,948.9 1472.7,942.4 1474.9,938.5 C1477.1,934.6 1477.7,934.2 1483.3,936.4 C1488.9,938.6 1491.4,941.3 1495.9,946.9 C1500.4,952.5 1497.3,957.3 1500.1,957.3 C1502.9,957.3 1501.8,951.9 1506.3,946.9 C1510.8,941.9 1511.8,939.6 1516.8,938.5 C1521.8,937.4 1523.5,944.4 1525.2,942.7 C1526.9,941.0 1521.4,936.7 1523.1,932.2 C1524.8,927.7 1526.5,927.6 1531.5,925.9 C1536.5,924.2 1537.5,922.5 1542,925.9 C1546.5,929.3 1544.4,934.0 1548.3,938.5 C1552.2,943.0 1553.3,946.1 1556.6,942.7 C1559.9,939.3 1557.5,930.4 1560.8,925.9 C1564.1,921.4 1566.8,925.9 1569,925.9"/><path d="M1384.8,1020 C1384.2,1022.8 1386.1,1024.9 1382.7,1030.5 C1379.3,1036.1 1377.2,1037.7 1372.2,1041 C1367.2,1044.3 1369.5,1040.8 1363.9,1043 C1358.3,1045.2 1356.9,1048.7 1351.3,1049.3 C1345.7,1049.9 1347.9,1046.8 1342.9,1045.1 C1337.9,1043.4 1336.3,1040.8 1332.4,1043 C1328.5,1045.2 1326.5,1047.9 1328.2,1053.5 C1329.9,1059.1 1334.2,1059.0 1338.7,1064 C1343.2,1069.0 1345.0,1069.6 1345,1072.4 C1345.0,1075.2 1342.6,1075.6 1338.7,1074.5 C1334.8,1073.4 1335.3,1068.8 1330.3,1068.2 C1325.3,1067.6 1323.8,1069.0 1319.9,1072.4 C1316.0,1075.8 1317.9,1077.4 1315.7,1080.8 C1313.5,1084.2 1314.3,1085.6 1311.5,1085 C1308.7,1084.4 1309.7,1082.1 1305.2,1078.7 C1300.7,1075.3 1300.9,1071.3 1294.7,1072.4 C1288.5,1073.5 1288.8,1076.2 1282.1,1082.9 C1275.4,1089.6 1276.3,1094.7 1269.6,1097.5 C1262.9,1100.3 1262.0,1091.6 1257,1093.3 C1252.0,1095.0 1252.9,1099.3 1250.7,1103.8 C1248.5,1108.3 1252.0,1107.3 1248.6,1110.1 C1245.2,1112.9 1241.4,1110.9 1238.1,1114.3 C1234.8,1117.7 1235.5,1118.8 1236.1,1122.7 C1236.7,1126.6 1243.0,1124.0 1240.2,1129 C1237.4,1134.0 1231.7,1134.8 1225.6,1141.5 C1219.5,1148.2 1223.4,1153.0 1217.2,1154.1 C1211.0,1155.2 1209.2,1144.6 1202.5,1145.7 C1195.8,1146.8 1197.0,1152.7 1192,1158.3 C1187.0,1163.9 1185.9,1162.2 1183.7,1166.7 C1181.5,1171.2 1186.5,1175.1 1183.7,1175.1 C1180.9,1175.1 1177.1,1170.6 1173.2,1166.7 C1169.3,1162.8 1170.1,1162.1 1169,1160.4"/><path d="M1169,1180 C1165.7,1180.6 1163.8,1178.7 1156.6,1182.1 C1149.4,1185.5 1151.5,1187.6 1142,1192.6 C1132.5,1197.6 1128.3,1196.5 1121,1201 C1113.7,1205.5 1113.6,1204.3 1114.7,1209.3 C1115.8,1214.3 1116.8,1214.8 1125.2,1219.8 C1133.6,1224.8 1139.5,1223.7 1146.2,1228.2 C1152.9,1232.7 1151.0,1230.5 1150.4,1236.6 C1149.8,1242.7 1147.5,1243.9 1144.1,1251.2 C1140.7,1258.5 1141.2,1263.2 1137.8,1263.8 C1134.4,1264.4 1134.9,1257.8 1131.5,1253.3 C1128.1,1248.8 1132.5,1249.9 1125.2,1247.1 C1117.9,1244.3 1113.8,1244.6 1104.3,1242.9 C1094.8,1241.2 1096.3,1239.1 1089.6,1240.8 C1082.9,1242.5 1082.5,1243.5 1079.1,1249.1 C1075.7,1254.7 1076.4,1254.4 1077,1261.7 C1077.6,1269.0 1081.8,1270.8 1081.2,1276.4 C1080.6,1282.0 1083.8,1279.3 1074.9,1282.7 C1066.0,1286.1 1056.6,1285.1 1047.7,1289 C1038.8,1292.9 1044.2,1291.7 1041.4,1297.3 C1038.6,1302.9 1036.1,1304.3 1037.2,1309.9 C1038.3,1315.5 1043.4,1313.8 1045.6,1318.3 C1047.8,1322.8 1049.5,1322.2 1045.6,1326.7 C1041.7,1331.2 1038.2,1330.1 1030.9,1335.1 C1023.6,1340.1 1025.6,1338.2 1018.3,1345.5 C1011.0,1352.8 1009.8,1353.9 1003.7,1362.3 C997.6,1370.7 999.2,1371.4 995.3,1377 C991.4,1382.6 995.7,1380.4 989,1383.2 C982.3,1386.0 978.0,1385.2 970.2,1387.4 C962.4,1389.6 963.6,1388.2 959.7,1391.6 C955.8,1395.0 956.1,1391.0 955.5,1400 C954.9,1409.0 959.3,1416.3 957.6,1425.2 C955.9,1434.1 955.9,1428.5 949.2,1433.5 C942.5,1438.5 939.1,1438.4 932.4,1444 C925.7,1449.6 926.3,1449.5 924.1,1454.5 C921.9,1459.5 923.5,1459.0 924.1,1462.9 C924.7,1466.8 926.8,1463.6 926.2,1469.2 C925.6,1474.8 924.8,1478.8 922,1483.8 C919.2,1488.8 923.5,1485.8 915.7,1488 C907.9,1490.2 902.1,1488.8 892.6,1492.2 C883.1,1495.6 886.2,1497.8 880.1,1500.6 C874.0,1503.4 873.5,1499.3 869.6,1502.7 C865.7,1506.1 869.9,1507.1 865.4,1513.2 C860.9,1519.3 857.3,1519.0 852.8,1525.7 C848.3,1532.4 849.2,1532.1 848.6,1538.3 C848.0,1544.5 851.3,1541.5 850.7,1548.8 C850.1,1556.1 850.4,1557.2 846.5,1565.5 C842.6,1573.8 843.4,1574.7 836.1,1580 C828.8,1585.3 823.6,1583.9 819,1585.3"/><path d="M192.9,1020 C194.0,1027.3 197.7,1034.3 197.1,1047.2 C196.5,1060.1 194.2,1058.7 190.8,1068.2 C187.4,1077.7 185.6,1074.5 184.5,1082.9 C183.4,1091.3 184.9,1092.3 186.6,1099.6 C188.3,1106.9 191.4,1103.9 190.8,1110.1 C190.2,1116.3 187.9,1116.6 184.5,1122.7 C181.1,1128.8 179.3,1128.1 178.2,1133.1 C177.1,1138.1 182.5,1136.5 180.3,1141.5 C178.1,1146.5 176.6,1144.7 169.9,1152 C163.2,1159.3 161.9,1163.8 155.2,1168.8 C148.5,1173.8 153.6,1170.9 144.7,1170.9 C135.8,1170.9 130.1,1166.0 121.7,1168.8 C113.3,1171.6 116.1,1175.2 113.3,1181.3 C110.5,1187.4 112.9,1186.2 111.2,1191.8 C109.5,1197.4 108.1,1196.7 107,1202.3 C105.9,1207.9 106.4,1203.3 107,1212.8 C107.6,1222.3 106.3,1229.0 109.1,1237.9 C111.9,1246.8 115.3,1238.5 117.5,1246.3 C119.7,1254.1 118.1,1259.9 117.5,1267.2 C116.9,1274.5 113.7,1269.0 115.4,1273.5 C117.1,1278.0 121.0,1278.4 123.8,1284 C126.6,1289.6 127.0,1288.9 125.9,1294.5 C124.8,1300.1 123.0,1300.0 119.6,1305 C116.2,1310.0 115.5,1308.3 113.3,1313.3 C111.1,1318.3 111.8,1316.5 111.2,1323.8 C110.6,1331.1 110.1,1333.9 111.2,1340.6 C112.3,1347.3 113.7,1345.1 115.4,1349 C117.1,1352.9 118.6,1350.3 117.5,1355.3 C116.4,1360.3 114.6,1360.5 111.2,1367.8 C107.8,1375.1 109.4,1374.7 104.9,1382.5 C100.4,1390.3 96.6,1387.2 94.4,1397.2 C92.2,1407.2 95.9,1413.9 96.5,1420"/><path d="M21.1,1126.9 L176.2,1124.8 L169.9,1137.3 L180.3,1141.5"/><path d="M109.1,1380 C106.3,1382.8 102.5,1385.5 98.6,1390.5 C94.7,1395.5 95.0,1393.3 94.4,1398.9 C93.8,1404.5 95.9,1404.7 96.5,1411.4 C97.1,1418.1 98.2,1416.7 96.5,1424 C94.8,1431.3 94.1,1432.0 90.2,1438.7 C86.3,1445.4 84.7,1443.5 81.9,1449.1 C79.1,1454.7 79.8,1454.0 79.8,1459.6 C79.8,1465.2 80.8,1465.1 81.9,1470.1 C83.0,1475.1 85.1,1474.0 84,1478.5 C82.9,1483.0 82.7,1481.9 77.7,1486.9 C72.7,1491.9 70.7,1493.4 65.1,1497.3 C59.5,1501.2 62.3,1499.3 56.7,1501.5 C51.1,1503.7 49.1,1502.3 44.1,1505.7 C39.1,1509.1 41.8,1507.9 37.9,1514.1 C34.0,1520.3 32.9,1522.6 29.5,1528.8 C26.1,1535.0 27.0,1532.7 25.3,1537.2 C23.6,1541.7 23.8,1543.3 23.2,1545.5"/><path d="M819,1585.3 C816.8,1588.1 812.4,1589.6 810.8,1595.8 C809.2,1602.0 814.6,1603.4 812.9,1608.4 C811.2,1613.4 807.3,1610.2 804.5,1614.7 C801.7,1619.2 805.7,1620.7 802.4,1625.2 C799.1,1629.7 798.1,1627.5 792,1631.4 C785.9,1635.3 785.0,1635.3 779.4,1639.8 C773.8,1644.3 775.5,1643.2 771,1648.2 C766.5,1653.2 767.1,1653.1 762.6,1658.7 C758.1,1664.3 756.5,1664.2 754.3,1669.2 C752.1,1674.2 756.5,1673.6 754.3,1677.5 C752.1,1681.4 750.4,1679.3 745.9,1683.8 C741.4,1688.3 743.1,1688.1 737.5,1694.3 C731.9,1700.5 731.6,1700.8 724.9,1706.9 C718.2,1713.0 717.9,1712.8 712.3,1717.3 C706.7,1721.8 709.6,1721.4 704,1723.6 C698.4,1725.8 698.1,1724.6 691.4,1725.7 C684.7,1726.8 685.5,1725.0 678.8,1727.8 C672.1,1730.6 672.3,1731.2 666.2,1736.2 C660.1,1741.2 659.7,1741.1 655.8,1746.7 C651.9,1752.3 652.7,1754.4 651.6,1757.2"/><path d="M1161.5,1168.1 C1159.1,1172.0 1159.7,1176.8 1152.4,1182.7 C1145.1,1188.6 1143.8,1184.7 1134,1190.1 C1124.2,1195.5 1121.6,1197.6 1115.7,1202.9 C1109.8,1208.2 1113.0,1208.2 1112,1210.1"/>
</g>
<g fill="none" stroke="#fff" stroke-width="5.5" stroke-linejoin="round" stroke-linecap="round">
<path d="M21,556.3 C21.8,556.1 23.4,555.9 25.0249,555.5 C26.7,555.1 27.9,555.4 29.2474,554.536 C30.6,553.6 30.0,550.7 31.6,551 C33.2,551.3 35.9,554.8 37.4263,556.223 C39.0,557.6 37.7,556.9 39.4494,557.929 C41.2,559.0 43.5,561.0 46.2,561.6 C48.9,562.2 50.6,561.6 52.9068,560.763 C55.2,559.9 56.1,557.9 57.6703,557.186 C59.3,556.5 59.7,558.2 61,557.3 C62.3,556.4 62.9,554.1 64.3429,552.786 C65.8,551.4 66.7,551.8 68.1084,550.596 C69.5,549.4 70.4,548.0 71.4,546.8 C72.4,545.6 71.7,544.7 72.9525,544.634 C74.2,544.6 75.7,546.6 77.5179,546.399 C79.3,546.2 80.3,544.0 81.9,543.7 C83.5,543.4 84.4,544.1 85.7296,544.772 C87.1,545.5 87.7,545.9 88.6219,547.122 C89.5,548.4 88.8,549.4 90.2,551 C91.6,552.6 94.0,552.6 95.6031,555.107 C97.2,557.6 96.2,561.1 98.0738,563.686 C100.0,566.2 103.0,567.4 105,567.8 C107.0,568.2 106.0,565.7 108.004,565.595 C110.1,565.5 113.4,567.4 115.263,567.156 C117.2,567.0 116.2,564.4 117.5,564.6 C118.8,564.8 119.5,567.4 121.524,568.246 C123.5,569.1 125.3,568.6 127.39,568.911 C129.5,569.3 130.6,568.5 132.1,570 C133.6,571.5 133.3,574.3 135.119,576.631 C137.0,579.0 139.3,580.0 141.263,581.6 C143.2,583.2 142.9,583.3 144.7,584.6 C146.5,585.9 148.9,586.6 150.475,587.995 C152.0,589.4 151.2,589.8 152.545,591.664 C153.9,593.5 156.1,596.2 157.3,597.2 C158.5,598.2 157.7,596.2 158.683,596.827 C159.6,597.5 160.7,599.5 162.105,600.346 C163.5,601.2 164.8,600.5 165.7,601.3 C166.6,602.1 165.5,603.4 166.48,604.112 C167.5,604.8 169.1,604.0 170.585,604.74 C172.1,605.4 172.8,606.2 174,607.6 C175.2,609.0 176.3,610.0 176.674,611.656 C177.1,613.3 175.8,614.1 176.063,615.792 C176.4,617.5 176.5,619.4 178.2,620 C179.9,620.6 182.0,619.0 184.619,618.928 C187.2,618.8 189.2,618.9 191.3,619.491 C193.4,620.1 193.5,620.7 195,622.1 C196.5,623.5 198.1,624.9 198.799,626.28 C199.5,627.6 197.8,628.0 198.672,628.851 C199.6,629.7 202.1,629.3 203.4,630.5 C204.7,631.7 204.5,633.7 204.965,634.981 C205.4,636.3 204.7,635.4 205.636,637.02 C206.6,638.6 208.3,641.6 209.7,643 C211.1,644.4 211.2,644.2 212.59,644.154 C214.0,644.1 214.9,643.3 216.819,642.69 C218.7,642.1 220.4,640.6 222.2,641 C224.0,641.4 225.3,644.1 226.019,644.835 C226.7,645.5 225.3,644.1 225.778,644.553 C226.3,645.0 227.8,645.8 228.5,647.2 C229.2,648.6 229.3,650.2 229.299,651.802 C229.3,653.4 228.1,654.0 228.332,655.194 C228.6,656.4 229.2,656.5 230.6,657.7 C232.0,658.9 234.3,660.0 235.289,661.239 C236.3,662.4 234.6,663.1 235.747,663.683 C236.9,664.2 239.1,663.5 241.1,664 C243.1,664.5 243.2,664.7 245.765,666.163 C248.4,667.6 251.3,670.0 254.143,671.272 C257.0,672.5 258.7,671.1 260,672.4 C261.3,673.7 260.2,676.3 260.76,677.597 C261.4,678.8 262.3,677.6 262.981,678.65 C263.7,679.7 263.4,681.8 264.2,682.9 C265.0,684.0 265.9,683.6 266.934,684.377 C268.0,685.2 267.9,685.7 269.446,687.029 C271.0,688.4 272.7,689.4 274.6,691.2 C276.5,693.0 277.7,695.2 278.857,695.987 C280.0,696.7 279.0,694.3 280.246,694.994 C281.5,695.7 283.3,697.8 285.1,699.6 C286.9,701.4 288.4,702.5 289.147,703.934 C289.9,705.4 288.5,705.3 288.924,706.949 C289.4,708.6 290.5,710.3 291.4,712.2 C292.3,714.1 292.7,715.2 293.176,716.305 C293.7,717.4 293.5,716.6 294.023,717.487 C294.5,718.3 294.5,719.4 295.6,720.6 C296.7,721.8 297.5,723.1 299.389,723.664 C301.2,724.2 302.3,723.1 304.864,723.374 C307.4,723.6 309.8,724.0 312.3,724.8 C314.8,725.6 315.6,725.5 317.154,727.489 C318.7,729.5 319.1,733.0 320.227,734.933 C321.4,736.9 322.3,736.8 322.8,737.3"/><path d="M368.9,620 C369.5,616.7 371.6,613.7 371,607.6 C370.4,601.5 364.6,601.1 366.8,597.2 C369.0,593.3 378.8,597.5 379.4,593 C380.0,588.5 371.1,587.1 368.9,580.4 C366.7,573.7 366.5,573.9 371,567.8 C375.5,561.7 380.7,563.0 385.7,557.4 C390.7,551.8 390.2,551.9 389.9,546.9 C389.6,541.9 385.2,544.7 384.6,538.5 C384.0,532.3 383.1,529.4 387.8,523.8 C392.5,518.2 397.9,520.9 402.4,517.5 C406.9,514.1 408.4,516.2 404.5,511.2 C400.6,506.2 388.9,503.7 387.8,498.7 C386.7,493.7 394.8,498.0 400.4,492.4 C406.0,486.8 403.7,483.3 408.7,477.7 C413.7,472.1 410.7,475.9 419,471.4 C427.3,466.9 429.4,467.1 440,461 C450.6,454.9 450.4,453.7 458.8,448.4 C467.2,443.1 465.4,442.7 471.4,441 C477.4,439.3 479.0,444.5 481.2,442 C483.4,439.5 483.3,436.3 479.8,431.6 C476.3,426.9 469.9,429.3 468.2,424.3 C466.5,419.3 468.8,417.5 473.5,412.8 C478.2,408.1 484.9,411.0 486,406.5 C487.1,402.0 478.8,401.6 477.7,396 C476.6,390.4 476.3,391.1 481.9,385.5 C487.5,379.9 495.3,382.3 498.6,375 C501.9,367.7 496.9,364.7 494.4,358.3 C491.9,351.9 487.0,352.1 489.2,351 C491.4,349.9 495.3,356.6 502.8,354.1 C510.3,351.6 513.0,346.8 517.5,341.5 C522.0,336.2 522.4,336.1 519.6,334.2 C516.8,332.3 508.7,337.8 507,334.2 C505.3,330.6 506.6,324.8 513.3,320.6 C520.0,316.4 526.1,321.9 532.2,318.5 C538.3,315.1 535.2,313.3 536.3,308 C537.4,302.7 533.5,300.5 536.3,298.6 C539.1,296.7 541.8,299.6 546.8,300.7 C551.8,301.8 551.8,305.3 555.2,302.8 C558.6,300.3 556.0,295.4 559.4,291.2 C562.8,287.0 565.6,292.0 567.8,287 C570.0,282.0 567.2,281.3 567.8,272.4 C568.4,263.5 569.9,262.4 569.9,253.5 C569.9,244.6 571.7,246.2 567.8,238.9 C563.9,231.6 561.4,230.8 555.2,226.3 C549.0,221.8 547.5,223.2 544.7,222.1"/><path d="M1422.5,620 C1426.4,616.7 1428.8,616.5 1437.2,607.6 C1445.6,598.7 1449.5,596.7 1454,586.7 C1458.5,576.7 1451.8,578.4 1454,570 C1456.2,561.6 1457.8,562.0 1462.3,555.3 C1466.8,548.6 1470.7,549.8 1470.7,544.8 C1470.7,539.8 1465.1,540.9 1462.3,536.4 C1459.5,531.9 1458.6,531.9 1460.3,528 C1462.0,524.1 1463.0,525.6 1468.6,521.7 C1474.2,517.8 1479.0,517.2 1481.2,513.3 C1483.4,509.4 1480.9,511.5 1477,507 C1473.1,502.5 1470.4,501.6 1466.5,496.6 C1462.6,491.6 1460.6,494.4 1462.3,488.2 C1464.0,482.0 1470.0,481.9 1472.8,473.5 C1475.6,465.1 1475.6,465.7 1472.8,456.8 C1470.0,447.9 1464.5,446.7 1462.3,440 C1460.1,433.3 1460.5,435.0 1464.4,431.6 C1468.3,428.2 1471.8,430.5 1477,427.4 C1482.2,424.3 1482.9,425.0 1484,420 C1485.1,415.0 1479.1,418.9 1481.2,408.6 C1483.3,398.3 1491.1,392.5 1491.7,381.3 C1492.3,370.1 1487.2,376.2 1483.3,366.7 C1479.4,357.2 1480.4,355.2 1477,345.7 C1473.6,336.2 1470.7,337.1 1470.7,331 C1470.7,324.9 1471.4,323.8 1477,322.7 C1482.6,321.6 1486.6,328.6 1491.7,326.9 C1496.8,325.2 1496.0,322.6 1496,316.4 C1496.0,310.2 1490.0,307.7 1491.7,303.8 C1493.4,299.9 1496.6,300.6 1502.2,301.7 C1507.8,302.8 1506.5,304.6 1512.6,308 C1518.7,311.4 1518.5,308.7 1525.2,314.3 C1531.9,319.9 1533.3,322.9 1537.8,329 C1542.3,335.1 1540.3,338.4 1542,337.3 C1543.7,336.2 1541.2,330.4 1544,324.8 C1546.8,319.2 1548.5,322.0 1552.4,316.4 C1556.3,310.8 1554.3,307.2 1558.7,303.8 C1563.1,300.4 1566.3,303.8 1569,303.8"/><path d="M371,620 C373.2,621.7 375.5,621.3 379.4,626.3 C383.3,631.3 386.8,633.3 385.7,638.9 C384.6,644.5 376.3,641.6 375.2,647.2 C374.1,652.8 384.9,656.4 381.5,659.8 C378.1,663.2 368.8,658.7 362.6,659.8 C356.4,660.9 358.4,655.6 358.4,664 C358.4,672.4 364.3,681.7 362.6,691.2 C360.9,700.7 355.5,695.1 352.2,699.6 C348.9,704.1 352.9,704.1 350.1,708 C347.3,711.9 346.2,710.9 341.7,714.3 C337.2,717.7 333.9,716.7 333.3,720.6 C332.7,724.5 339.0,724.5 339.6,729 C340.2,733.5 339.9,734.5 335.4,737.3 C330.9,740.1 326.7,737.7 322.8,739.4 C318.9,741.1 328.5,739.1 320.7,743.6 C312.9,748.1 301.9,751.2 293.5,756.2 C285.1,761.2 288.7,756.4 289.3,762.5 C289.9,768.6 297.3,773.1 295.6,779.2 C293.9,785.3 286.4,780.5 283,785.5 C279.6,790.5 285.2,795.9 283,798.1 C280.8,800.3 278.5,794.5 274.6,793.9 C270.7,793.3 269.4,789.8 268.3,796 C267.2,802.2 276.0,810.3 270.4,817 C264.8,823.7 255.8,817.9 247.4,821.2 C239.0,824.5 241.8,823.9 239,829.5 C236.2,835.1 234.1,836.5 236.9,842.1 C239.7,847.7 243.9,845.5 249.5,850.5 C255.1,855.5 256.2,852.6 257.9,861 C259.6,869.4 257.5,873.5 255.8,881.9 C254.1,890.3 257.8,886.2 251.6,892.4 C245.4,898.6 241.6,900.5 232.7,905 C223.8,909.5 226.5,907.0 218.1,909.2 C209.7,911.4 207.5,910.0 201.3,913.3 C195.1,916.6 199.5,916.7 195,921.7 C190.5,926.7 189.0,927.2 184.5,932.2 C180.0,937.2 181.5,935.6 178.2,940.6 C174.9,945.6 173.7,943.8 172,951.1 C170.3,958.4 170.9,961.1 172,967.8 C173.1,974.5 176.2,971.2 176.2,976.2 C176.2,981.2 172.6,981.7 172,986.7 C171.4,991.7 170.2,990.6 174.1,995.1 C178.0,999.6 181.6,996.8 186.6,1003.4 C191.6,1010.0 191.2,1015.6 192.9,1020"/><path d="M419,869.3 C412.9,869.9 407.9,870.3 396.2,871.4 C384.5,872.5 386.4,874.6 375.2,873.5 C364.0,872.4 365.5,867.8 354.3,867.2 C343.1,866.6 341.1,868.6 333.3,871.4 C325.5,874.2 330.5,876.0 324.9,877.7 C319.3,879.4 318.4,879.4 312.3,877.7 C306.2,876.0 308.0,872.5 301.9,871.4 C295.8,870.3 297.7,870.7 289.3,873.5 C280.9,876.3 280.5,876.9 270.4,881.9 C260.3,886.9 256.6,889.6 251.6,892.4"/><path d="M419,868.2 C424.0,867.6 427.8,866.1 437.9,866.1 C448.0,866.1 446.1,866.5 456.7,868.2 C467.3,869.9 469.3,868.5 477.7,872.4 C486.1,876.3 480.3,879.0 488.1,882.9 C495.9,886.8 495.8,885.4 507,887.1 C518.2,888.8 520.0,885.8 530.1,889.1 C540.2,892.4 535.2,894.0 544.7,899.6 C554.2,905.2 552.8,904.6 565.7,910.1 C578.6,915.6 578.9,917.4 592.9,920.2 C606.9,923.0 604.1,921.6 618.1,920.6 C632.1,919.6 631.4,912.5 645.3,916.4 C659.2,920.3 658.1,928.5 670.4,935.2 C682.7,941.9 680.2,939.3 691.4,941.5 C702.6,943.7 701.1,944.2 712.3,943.6 C723.5,943.0 723.2,941.1 733.3,939.4 C743.4,937.7 745.6,937.9 750.1,937.3"/><path d="M713.1,944.3 C719.8,943.5 726.4,945.0 738.1,941.2 C749.8,937.4 748.6,935.2 756.9,930.2 C765.2,925.2 761.9,924.1 769.4,922.4 C776.9,920.7 776.7,920.2 785,924 C793.3,927.8 792.4,929.8 800.7,936.5 C809.0,943.2 808.0,945.2 816.3,949 C824.6,952.8 827.0,953.9 832,950.6 C837.0,947.3 831.8,941.1 835.1,936.5 C838.4,931.9 836.2,936.3 844.5,933.4 C852.8,930.5 858.1,925.5 866.4,925.5 C874.7,925.5 868.3,927.1 875.8,933.4 C883.3,939.7 887.1,939.8 894.6,949 C902.1,958.2 896.5,958.6 904,967.8 C911.5,977.0 913.6,980.1 922.8,983.4 C932.0,986.7 931.7,987.8 938.4,980.3 C945.1,972.8 942.1,969.5 947.8,955.3 C953.5,941.1 954.9,938.7 959.8,926.9 C964.7,915.1 960.2,917.3 966,911 C971.8,904.7 972.6,909.6 981.7,903.4 C990.8,897.2 992.1,892.5 1000,887.8 C1007.9,883.1 1001.9,886.8 1011.2,885.7 C1020.5,884.6 1026.7,881.9 1035,883.8 C1043.3,885.7 1035.4,889.1 1042.3,893 C1049.2,896.9 1050.9,897.5 1060.7,898.5 C1070.5,899.5 1072.7,895.2 1079,896.7 C1085.3,898.2 1079.6,899.1 1084.5,904 C1089.4,908.9 1090.1,909.6 1097.4,915 C1104.7,920.4 1103.2,919.8 1112,924.2 C1120.8,928.6 1122.1,934.0 1130.4,931.5 C1138.7,929.0 1134.9,922.3 1143.2,915 C1151.5,907.7 1151.7,909.9 1161.5,904 C1171.3,898.1 1173.0,899.9 1179.9,893 C1186.8,886.1 1186.2,886.1 1187.2,878.3 C1188.2,870.5 1185.0,868.6 1183.5,863.7 C1182.0,858.8 1182.2,861.0 1181.7,860"/><path d="M738.1,941.2 C743.1,943.3 749.4,942.7 756.9,949 C764.4,955.3 759.6,958.0 766.3,964.7 C773.0,971.4 773.6,969.9 781.9,974.1 C790.2,978.3 788.4,981.2 797.6,980.3 C806.8,979.4 806.3,974.2 816.3,970.9 C826.3,967.6 827.6,970.3 835.1,967.8 C842.6,965.3 843.7,966.5 844.5,961.5 C845.3,956.5 841.5,951.9 838.2,949 C834.9,946.1 833.7,950.2 832,950.6"/><path d="M1040.5,891.2 C1040.0,895.1 1040.2,897.0 1038.7,905.8 C1037.2,914.6 1034.5,915.4 1035,924.2 C1035.5,933.0 1035.1,929.6 1040.5,938.9 C1045.9,948.2 1039.1,930.2 1055.2,959 C1071.3,987.8 1089.7,1019.6 1101,1047 C1112.3,1074.4 1096.9,1055.3 1097.4,1061.7 C1097.9,1068.1 1101.9,1064.5 1102.9,1070.9 C1103.9,1077.3 1100.0,1077.3 1101,1085.6 C1102.0,1093.9 1100.6,1089.9 1106.5,1102.1 C1112.4,1114.3 1114.7,1119.2 1123,1131.4 C1131.3,1143.6 1127.4,1138.1 1137.7,1147.9 C1148.0,1157.7 1152.7,1164.7 1161.5,1168.1 C1170.3,1171.5 1165.8,1159.7 1170.7,1160.7 C1175.6,1161.7 1175.0,1172.7 1179.9,1171.7 C1184.8,1170.7 1182.7,1163.9 1189,1157.1 C1195.3,1150.3 1196.3,1147.1 1203.7,1146.1 C1211.1,1145.1 1206.8,1158.8 1216.6,1153.4 C1226.4,1148.0 1235.0,1136.6 1240.4,1125.9 C1245.8,1115.2 1232.8,1121.4 1236.7,1113.1 C1240.6,1104.8 1246.5,1100.1 1255.1,1094.7 C1263.7,1089.3 1265.3,1093.4 1269,1092.9"/><path d="M1169,898.7 C1171.2,894.8 1174.0,892.4 1177.4,884 C1180.8,875.6 1182.2,875.6 1181.6,867.2 C1181.0,858.8 1178.1,859.3 1175.3,852.6 C1172.5,845.9 1171.1,847.7 1171.1,842.1 C1171.1,836.5 1171.4,837.2 1175.3,831.6 C1179.2,826.0 1182.4,826.2 1185.8,821.2 C1189.2,816.2 1184.0,815.0 1187.9,812.8 C1191.8,810.6 1193.1,812.2 1200.4,812.8 C1207.7,813.4 1210.1,817.1 1215.1,814.9 C1220.1,812.7 1218.2,810.6 1219.3,804.4 C1220.4,798.2 1217.1,798.5 1219.3,791.8 C1221.5,785.1 1222.1,785.3 1227.7,779.2 C1233.3,773.1 1232.4,772.1 1240.2,768.8 C1248.0,765.5 1249.2,768.4 1257,766.7 C1264.8,765.0 1263.4,764.7 1269.6,762.5 C1275.8,760.3 1274.0,757.2 1280.1,758.3 C1286.2,759.4 1286.5,764.5 1292.6,766.7 C1298.7,768.9 1296.9,767.8 1303.1,766.7 C1309.3,765.6 1311.2,765.9 1315.7,762.5 C1320.2,759.1 1319.9,759.7 1319.9,754.1 C1319.9,748.5 1317.4,747.1 1315.7,741.5 C1314.0,735.9 1311.9,737.6 1313.6,733.1 C1315.3,728.6 1315.9,729.3 1322,724.8 C1328.1,720.3 1329.3,720.9 1336.6,716.4 C1343.9,711.9 1341.4,710.2 1349.2,708 C1357.0,705.8 1359.9,709.7 1366,708 C1372.1,706.3 1369.4,706.7 1372.2,701.7 C1375.0,696.7 1375.3,695.8 1376.4,689.1 C1377.5,682.4 1373.6,682.2 1376.4,676.6 C1379.2,671.0 1380.2,671.6 1386.9,668.2 C1393.6,664.8 1394.9,663.4 1401.6,664 C1408.3,664.6 1406.5,670.9 1412.1,670.3 C1417.7,669.7 1418.6,666.9 1422.5,661.9 C1426.4,656.9 1426.7,657.0 1426.7,651.4 C1426.7,645.8 1424.2,646.6 1422.5,641 C1420.8,635.4 1419.3,636.1 1420.4,630.5 C1421.5,624.9 1425.0,622.8 1426.7,620"/><path d="M1384.8,1020 C1384.2,1014.5 1381.0,1007.1 1382.7,999.3 C1384.4,991.5 1386.1,995.4 1391.1,990.9 C1396.1,986.4 1397.7,986.4 1401.6,982.5 C1405.5,978.6 1404.7,980.7 1405.8,976.2 C1406.9,971.7 1404.1,971.3 1405.8,965.7 C1407.5,960.1 1408.8,955.9 1412.1,955.3 C1415.4,954.7 1415.0,958.0 1418.3,963.6 C1421.6,969.2 1419.0,971.7 1424.6,976.2 C1430.2,980.7 1432.0,980.4 1439.3,980.4 C1446.6,980.4 1446.9,980.7 1451.9,976.2 C1456.9,971.7 1456.5,969.7 1458.2,963.6 C1459.9,957.5 1456.0,957.7 1458.2,953.2 C1460.4,948.7 1462.0,947.5 1466.5,946.9 C1471.0,946.3 1472.7,953.3 1474.9,951.1 C1477.1,948.9 1472.7,942.4 1474.9,938.5 C1477.1,934.6 1477.7,934.2 1483.3,936.4 C1488.9,938.6 1491.4,941.3 1495.9,946.9 C1500.4,952.5 1497.3,957.3 1500.1,957.3 C1502.9,957.3 1501.8,951.9 1506.3,946.9 C1510.8,941.9 1511.8,939.6 1516.8,938.5 C1521.8,937.4 1523.5,944.4 1525.2,942.7 C1526.9,941.0 1521.4,936.7 1523.1,932.2 C1524.8,927.7 1526.5,927.6 1531.5,925.9 C1536.5,924.2 1537.5,922.5 1542,925.9 C1546.5,929.3 1544.4,934.0 1548.3,938.5 C1552.2,943.0 1553.3,946.1 1556.6,942.7 C1559.9,939.3 1557.5,930.4 1560.8,925.9 C1564.1,921.4 1566.8,925.9 1569,925.9"/><path d="M1384.8,1020 C1384.2,1022.8 1386.1,1024.9 1382.7,1030.5 C1379.3,1036.1 1377.2,1037.7 1372.2,1041 C1367.2,1044.3 1369.5,1040.8 1363.9,1043 C1358.3,1045.2 1356.9,1048.7 1351.3,1049.3 C1345.7,1049.9 1347.9,1046.8 1342.9,1045.1 C1337.9,1043.4 1336.3,1040.8 1332.4,1043 C1328.5,1045.2 1326.5,1047.9 1328.2,1053.5 C1329.9,1059.1 1334.2,1059.0 1338.7,1064 C1343.2,1069.0 1345.0,1069.6 1345,1072.4 C1345.0,1075.2 1342.6,1075.6 1338.7,1074.5 C1334.8,1073.4 1335.3,1068.8 1330.3,1068.2 C1325.3,1067.6 1323.8,1069.0 1319.9,1072.4 C1316.0,1075.8 1317.9,1077.4 1315.7,1080.8 C1313.5,1084.2 1314.3,1085.6 1311.5,1085 C1308.7,1084.4 1309.7,1082.1 1305.2,1078.7 C1300.7,1075.3 1300.9,1071.3 1294.7,1072.4 C1288.5,1073.5 1288.8,1076.2 1282.1,1082.9 C1275.4,1089.6 1276.3,1094.7 1269.6,1097.5 C1262.9,1100.3 1262.0,1091.6 1257,1093.3 C1252.0,1095.0 1252.9,1099.3 1250.7,1103.8 C1248.5,1108.3 1252.0,1107.3 1248.6,1110.1 C1245.2,1112.9 1241.4,1110.9 1238.1,1114.3 C1234.8,1117.7 1235.5,1118.8 1236.1,1122.7 C1236.7,1126.6 1243.0,1124.0 1240.2,1129 C1237.4,1134.0 1231.7,1134.8 1225.6,1141.5 C1219.5,1148.2 1223.4,1153.0 1217.2,1154.1 C1211.0,1155.2 1209.2,1144.6 1202.5,1145.7 C1195.8,1146.8 1197.0,1152.7 1192,1158.3 C1187.0,1163.9 1185.9,1162.2 1183.7,1166.7 C1181.5,1171.2 1186.5,1175.1 1183.7,1175.1 C1180.9,1175.1 1177.1,1170.6 1173.2,1166.7 C1169.3,1162.8 1170.1,1162.1 1169,1160.4"/><path d="M1169,1180 C1165.7,1180.6 1163.8,1178.7 1156.6,1182.1 C1149.4,1185.5 1151.5,1187.6 1142,1192.6 C1132.5,1197.6 1128.3,1196.5 1121,1201 C1113.7,1205.5 1113.6,1204.3 1114.7,1209.3 C1115.8,1214.3 1116.8,1214.8 1125.2,1219.8 C1133.6,1224.8 1139.5,1223.7 1146.2,1228.2 C1152.9,1232.7 1151.0,1230.5 1150.4,1236.6 C1149.8,1242.7 1147.5,1243.9 1144.1,1251.2 C1140.7,1258.5 1141.2,1263.2 1137.8,1263.8 C1134.4,1264.4 1134.9,1257.8 1131.5,1253.3 C1128.1,1248.8 1132.5,1249.9 1125.2,1247.1 C1117.9,1244.3 1113.8,1244.6 1104.3,1242.9 C1094.8,1241.2 1096.3,1239.1 1089.6,1240.8 C1082.9,1242.5 1082.5,1243.5 1079.1,1249.1 C1075.7,1254.7 1076.4,1254.4 1077,1261.7 C1077.6,1269.0 1081.8,1270.8 1081.2,1276.4 C1080.6,1282.0 1083.8,1279.3 1074.9,1282.7 C1066.0,1286.1 1056.6,1285.1 1047.7,1289 C1038.8,1292.9 1044.2,1291.7 1041.4,1297.3 C1038.6,1302.9 1036.1,1304.3 1037.2,1309.9 C1038.3,1315.5 1043.4,1313.8 1045.6,1318.3 C1047.8,1322.8 1049.5,1322.2 1045.6,1326.7 C1041.7,1331.2 1038.2,1330.1 1030.9,1335.1 C1023.6,1340.1 1025.6,1338.2 1018.3,1345.5 C1011.0,1352.8 1009.8,1353.9 1003.7,1362.3 C997.6,1370.7 999.2,1371.4 995.3,1377 C991.4,1382.6 995.7,1380.4 989,1383.2 C982.3,1386.0 978.0,1385.2 970.2,1387.4 C962.4,1389.6 963.6,1388.2 959.7,1391.6 C955.8,1395.0 956.1,1391.0 955.5,1400 C954.9,1409.0 959.3,1416.3 957.6,1425.2 C955.9,1434.1 955.9,1428.5 949.2,1433.5 C942.5,1438.5 939.1,1438.4 932.4,1444 C925.7,1449.6 926.3,1449.5 924.1,1454.5 C921.9,1459.5 923.5,1459.0 924.1,1462.9 C924.7,1466.8 926.8,1463.6 926.2,1469.2 C925.6,1474.8 924.8,1478.8 922,1483.8 C919.2,1488.8 923.5,1485.8 915.7,1488 C907.9,1490.2 902.1,1488.8 892.6,1492.2 C883.1,1495.6 886.2,1497.8 880.1,1500.6 C874.0,1503.4 873.5,1499.3 869.6,1502.7 C865.7,1506.1 869.9,1507.1 865.4,1513.2 C860.9,1519.3 857.3,1519.0 852.8,1525.7 C848.3,1532.4 849.2,1532.1 848.6,1538.3 C848.0,1544.5 851.3,1541.5 850.7,1548.8 C850.1,1556.1 850.4,1557.2 846.5,1565.5 C842.6,1573.8 843.4,1574.7 836.1,1580 C828.8,1585.3 823.6,1583.9 819,1585.3"/><path d="M192.9,1020 C194.0,1027.3 197.7,1034.3 197.1,1047.2 C196.5,1060.1 194.2,1058.7 190.8,1068.2 C187.4,1077.7 185.6,1074.5 184.5,1082.9 C183.4,1091.3 184.9,1092.3 186.6,1099.6 C188.3,1106.9 191.4,1103.9 190.8,1110.1 C190.2,1116.3 187.9,1116.6 184.5,1122.7 C181.1,1128.8 179.3,1128.1 178.2,1133.1 C177.1,1138.1 182.5,1136.5 180.3,1141.5 C178.1,1146.5 176.6,1144.7 169.9,1152 C163.2,1159.3 161.9,1163.8 155.2,1168.8 C148.5,1173.8 153.6,1170.9 144.7,1170.9 C135.8,1170.9 130.1,1166.0 121.7,1168.8 C113.3,1171.6 116.1,1175.2 113.3,1181.3 C110.5,1187.4 112.9,1186.2 111.2,1191.8 C109.5,1197.4 108.1,1196.7 107,1202.3 C105.9,1207.9 106.4,1203.3 107,1212.8 C107.6,1222.3 106.3,1229.0 109.1,1237.9 C111.9,1246.8 115.3,1238.5 117.5,1246.3 C119.7,1254.1 118.1,1259.9 117.5,1267.2 C116.9,1274.5 113.7,1269.0 115.4,1273.5 C117.1,1278.0 121.0,1278.4 123.8,1284 C126.6,1289.6 127.0,1288.9 125.9,1294.5 C124.8,1300.1 123.0,1300.0 119.6,1305 C116.2,1310.0 115.5,1308.3 113.3,1313.3 C111.1,1318.3 111.8,1316.5 111.2,1323.8 C110.6,1331.1 110.1,1333.9 111.2,1340.6 C112.3,1347.3 113.7,1345.1 115.4,1349 C117.1,1352.9 118.6,1350.3 117.5,1355.3 C116.4,1360.3 114.6,1360.5 111.2,1367.8 C107.8,1375.1 109.4,1374.7 104.9,1382.5 C100.4,1390.3 96.6,1387.2 94.4,1397.2 C92.2,1407.2 95.9,1413.9 96.5,1420"/><path d="M21.1,1126.9 L176.2,1124.8 L169.9,1137.3 L180.3,1141.5"/><path d="M109.1,1380 C106.3,1382.8 102.5,1385.5 98.6,1390.5 C94.7,1395.5 95.0,1393.3 94.4,1398.9 C93.8,1404.5 95.9,1404.7 96.5,1411.4 C97.1,1418.1 98.2,1416.7 96.5,1424 C94.8,1431.3 94.1,1432.0 90.2,1438.7 C86.3,1445.4 84.7,1443.5 81.9,1449.1 C79.1,1454.7 79.8,1454.0 79.8,1459.6 C79.8,1465.2 80.8,1465.1 81.9,1470.1 C83.0,1475.1 85.1,1474.0 84,1478.5 C82.9,1483.0 82.7,1481.9 77.7,1486.9 C72.7,1491.9 70.7,1493.4 65.1,1497.3 C59.5,1501.2 62.3,1499.3 56.7,1501.5 C51.1,1503.7 49.1,1502.3 44.1,1505.7 C39.1,1509.1 41.8,1507.9 37.9,1514.1 C34.0,1520.3 32.9,1522.6 29.5,1528.8 C26.1,1535.0 27.0,1532.7 25.3,1537.2 C23.6,1541.7 23.8,1543.3 23.2,1545.5"/><path d="M819,1585.3 C816.8,1588.1 812.4,1589.6 810.8,1595.8 C809.2,1602.0 814.6,1603.4 812.9,1608.4 C811.2,1613.4 807.3,1610.2 804.5,1614.7 C801.7,1619.2 805.7,1620.7 802.4,1625.2 C799.1,1629.7 798.1,1627.5 792,1631.4 C785.9,1635.3 785.0,1635.3 779.4,1639.8 C773.8,1644.3 775.5,1643.2 771,1648.2 C766.5,1653.2 767.1,1653.1 762.6,1658.7 C758.1,1664.3 756.5,1664.2 754.3,1669.2 C752.1,1674.2 756.5,1673.6 754.3,1677.5 C752.1,1681.4 750.4,1679.3 745.9,1683.8 C741.4,1688.3 743.1,1688.1 737.5,1694.3 C731.9,1700.5 731.6,1700.8 724.9,1706.9 C718.2,1713.0 717.9,1712.8 712.3,1717.3 C706.7,1721.8 709.6,1721.4 704,1723.6 C698.4,1725.8 698.1,1724.6 691.4,1725.7 C684.7,1726.8 685.5,1725.0 678.8,1727.8 C672.1,1730.6 672.3,1731.2 666.2,1736.2 C660.1,1741.2 659.7,1741.1 655.8,1746.7 C651.9,1752.3 652.7,1754.4 651.6,1757.2"/><path d="M1161.5,1168.1 C1159.1,1172.0 1159.7,1176.8 1152.4,1182.7 C1145.1,1188.6 1143.8,1184.7 1134,1190.1 C1124.2,1195.5 1121.6,1197.6 1115.7,1202.9 C1109.8,1208.2 1113.0,1208.2 1112,1210.1"/>
</g>
<path d="M1502.2,220 C1499.7,223.4 1496.6,224.8 1492.7,232.6 C1488.8,240.4 1488.9,241.5 1487.5,249.3 C1486.1,257.1 1486.1,254.1 1487.5,261.9 C1488.9,269.7 1492.1,270.9 1492.7,278.7 C1493.3,286.5 1490.7,285.3 1489.6,291.2 C1488.5,297.1 1488.8,298.2 1488.5,300.7" fill="none" stroke="#c8c8c8" stroke-width="2.5"/>
<circle cx="794" cy="989.5" r="744" fill="none" stroke="#fff" stroke-width="2.5"/>
<g fill="#fff"><circle cx="95" cy="349" r="7"/><circle cx="699" cy="305" r="7"/><circle cx="914" cy="357" r="7"/><circle cx="481" cy="441" r="7"/><circle cx="674" cy="425" r="7"/><circle cx="1305" cy="429" r="7"/><circle cx="389" cy="498" r="7"/><circle cx="1499" cy="308" r="7"/><circle cx="709" cy="575" r="7"/><circle cx="1482" cy="578" r="7"/><circle cx="1281" cy="618" r="7"/><circle cx="702" cy="665" r="7"/><circle cx="738" cy="739" r="7"/><circle cx="356" cy="773" r="7"/><circle cx="461" cy="826" r="7"/><circle cx="1195" cy="865" r="7"/><circle cx="1084" cy="903" r="7"/><circle cx="185" cy="940" r="7"/><circle cx="1326" cy="945" r="7"/><circle cx="841" cy="968" r="7"/><circle cx="203" cy="1107" r="7"/><circle cx="1125" cy="1091" r="7"/><circle cx="1313" cy="1080" r="7"/><circle cx="1518" cy="1080" r="7"/><circle cx="477" cy="1254" r="7"/><circle cx="694" cy="1304" r="7"/><circle cx="1036" cy="1309" r="7"/><circle cx="230" cy="1320" r="7"/><circle cx="423" cy="1526" r="7"/></g>
<g font-family="Liberation Mono, monospace" font-size="30.4" fill="#fff"><text x="104" y="340">PIRANE</text><text x="709" y="296">PARAGUARÍ</text><text x="924" y="348">VILLARRICA</text><text x="489" y="433">VA. OLIVA</text><text x="683" y="416">QUIINDY</text><text x="1314" y="420">NARANJAL</text><text x="397" y="489">FORMOSA</text><text x="1509" y="297">PUEI</text><text x="718" y="566">VA. FLORIDA</text><text x="1491" y="569">ELDOI</text><text x="1289" y="608">MARÍA AUXILIADOR</text><text x="711" y="655">SAN JUAN BAUTISTA</text><text x="747" y="729">SAN IGNACIO</text><text x="365" y="764">ISLA UMBÚ</text><text x="470" y="816">VILLALBÍN</text><text x="1204" y="855">SAN IGNACIO</text><text x="1093" y="893">POSADAS</text><text x="194" y="930">CORRIENTES</text><text x="1335" y="936">OBERÁ</text><text x="850" y="958">ITUZAINGÓ</text><text x="212" y="1097">EMPEDRADO</text><text x="1134" y="1081">APÓSTOLES</text><text x="1322" y="1071">SAN JAVIER</text><text x="1527" y="1071">SAI</text><text x="486" y="1244">CONCEPCIÓN</text><text x="703" y="1294">COL. C. PELLEGRINI</text><text x="1045" y="1300">SANTO TOMÉ</text><text x="239" y="1311">SAN ROQUE</text><text x="432" y="1516">MERCEDES</text></g>
<rect x="26.3" y="1653" width="332.6" height="101.4" fill="#5a5a5a" fill-opacity="0.9"/>
<rect x="40.2" y="1668" width="302.5" height="71.5" fill="none" stroke="#ffa500" stroke-width="6"/>
<g font-family="Liberation Mono, monospace" font-size="22.2" fill="#fff"><text x="51.5" y="1698">Avisos Meteorológicos</text><text x="51.5" y="1724.4">a Muy Corto Plazo</text></g>
</g>
<!-- RIGHT PANEL -->
<rect x="1569" y="219" width="190" height="1541.5" fill="#000"/>
<rect x="1571" y="220.5" width="148" height="1538" fill="#1a1a1a"/>
<g clip-path="url(#cr)">
<g>
<defs>
<linearGradient id="rgr" x1="0" y1="0" x2="1" y2="0"><stop offset="0" stop-color="#fff"/><stop offset="0.55" stop-color="#fff"/><stop offset="0.78" stop-color="#555"/><stop offset="1" stop-color="#000"/></linearGradient>
<filter id="rstk" filterUnits="userSpaceOnUse" x="1571" y="780" width="60" height="410" color-interpolation-filters="sRGB">
<feColorMatrix in="SourceGraphic" type="luminanceToAlpha" result="la"/>
<feTurbulence type="fractalNoise" baseFrequency="0.04 0.45" numOctaves="1" seed="4" result="nz"/>
<feColorMatrix in="nz" type="matrix" values="0 0 0 0 0  0 0 0 0 0  0 0 0 0 0  2.2 0 0 0 -0.6" result="na"/>
<feComposite in="la" in2="na" operator="arithmetic" k1="0" k2="1.3" k3="-1" k4="0" result="d1"/>
<feComponentTransfer in="d1" result="mask"><feFuncA type="linear" slope="40"/></feComponentTransfer>
<feTurbulence type="fractalNoise" baseFrequency="0.08 0.5" numOctaves="1" seed="10" result="nz2"/>
<feColorMatrix in="nz2" type="matrix" values="0 0 0 0 0.18  0 0 0 0 0.52  0 0 0 0 0.75  2.6 0 0 0 -1.3" result="col2"/>
<feFlood flood-color="#3b68a0" result="c1"/>
<feComposite in="col2" in2="c1" operator="over" result="col"/>
<feComposite in="col" in2="mask" operator="in"/>
</filter>
</defs>
<g filter="url(#rstk)"><rect x="1571" y="780" width="60" height="410" fill="#000"/><rect x="1571" y="786" width="46" height="396" fill="url(#rgr)"/></g>

<g fill="#2d95cc">
<path d="M1595,790 Q1615,785 1635,792 L1632,805 L1650,810 L1655,830 L1652,850 L1665,872 L1660,885 L1640,895 L1620,905 L1597,905 L1590,880 L1591,830 Z"/>
<ellipse cx="1614" cy="890" rx="22" ry="9" fill="#2aa5d6"/>
<ellipse cx="1692" cy="693" rx="13" ry="11" fill="#2f88c4"/>
<ellipse cx="1587" cy="747" rx="12" ry="5" fill="#3a78b8"/>
<ellipse cx="1589" cy="769" rx="10" ry="5" fill="#2aa5d6"/>
<path d="M1576,1110 L1600,1105 L1620,1125 L1645,1140 L1650,1160 L1610,1168 L1576,1165 Z"/>
<ellipse cx="1606" cy="1178" rx="23" ry="7"/>
<ellipse cx="1601" cy="1215" rx="17" ry="6" fill="#3085c0"/>
<ellipse cx="1607" cy="1237" rx="19" ry="12"/>
<ellipse cx="1585" cy="1249" rx="9" ry="6" fill="#3a78b8"/>
<ellipse cx="1607" cy="1311" rx="13" ry="6"/>
<ellipse cx="1661" cy="1322" rx="13" ry="5" fill="#3088c4"/>
<ellipse cx="1609" cy="1400" rx="16" ry="7"/>
<ellipse cx="1601" cy="1424" rx="17" ry="6"/>
<ellipse cx="1703" cy="1402" rx="15" ry="5" fill="#2ab0de"/>
<ellipse cx="1632" cy="1463" rx="19" ry="5"/>
<ellipse cx="1631" cy="1557" rx="23" ry="6"/>
<ellipse cx="1672" cy="1186" rx="24" ry="6" fill="#2aa5d6"/>
</g>
<g fill="#3b6aa0">
<path d="M1648,895 L1660,893 L1666,905 L1665,955 L1650,955 L1652,920 Z"/>
<path d="M1657,962 L1667,960 L1667,996 L1659,996 Z"/>
</g>
<ellipse cx="1672" cy="1173" rx="24" ry="6" fill="#4cd03a"/>
<ellipse cx="1686" cy="1327" rx="17" ry="7" fill="#38a02a"/>
<ellipse cx="1657" cy="1356" rx="14" ry="6" fill="#2f8f28"/>
<ellipse cx="1680" cy="1351" rx="16" ry="6" fill="#45b832"/>
<ellipse cx="1680" cy="1351" rx="13" ry="4" fill="#d89020"/>
<ellipse cx="1678" cy="1411" rx="15" ry="5" fill="#55e03a"/>
<rect x="1658" y="854" width="16" height="10" fill="#e8e840"/>
<rect x="1658" y="860" width="16" height="4" fill="#55e03a"/>
</g>

<line x1="1620.5" y1="220" x2="1620.5" y2="1759" stroke="#fff" stroke-width="1.5"/>
<line x1="1670.8" y1="220" x2="1670.8" y2="1759" stroke="#fff" stroke-width="1.5"/>
</g>
<g font-family="Liberation Sans, sans-serif" font-size="25" fill="#fff">
<text transform="translate(1598,222.5) rotate(90)">5 km</text>
<text transform="translate(1648,222.5) rotate(90)">10 km</text>
<text transform="translate(1698,222.5) rotate(90)">15 km</text>
</g>
<!-- COLORBAR -->
<rect x="1721" y="221.0" width="36" height="119.1" fill="#88dfbc"/>
<rect x="1721" y="339.6" width="36" height="47.9" fill="#98e2c3"/>
<rect x="1721" y="387.0" width="36" height="26.2" fill="#a6e8cd"/>
<rect x="1721" y="412.7" width="36" height="24.8" fill="#b3ead6"/>
<rect x="1721" y="437.0" width="36" height="24.5" fill="#c6efe0"/>
<rect x="1721" y="461.0" width="36" height="24.2" fill="#e0f5ed"/>
<rect x="1721" y="484.7" width="36" height="24.8" fill="#ffffff"/>
<rect x="1721" y="509.0" width="36" height="24.5" fill="#990099"/>
<rect x="1721" y="533.0" width="36" height="24.2" fill="#b000b0"/>
<rect x="1721" y="556.7" width="36" height="24.6" fill="#cc00cc"/>
<rect x="1721" y="580.8" width="36" height="24.7" fill="#e800e8"/>
<rect x="1721" y="605.0" width="36" height="24.3" fill="#dd0099"/>
<rect x="1721" y="628.8" width="36" height="24.3" fill="#c0005a"/>
<rect x="1721" y="652.6" width="36" height="24.9" fill="#990000"/>
<rect x="1721" y="677.0" width="36" height="24.5" fill="#b00010"/>
<rect x="1721" y="701.0" width="36" height="24.5" fill="#c20020"/>
<rect x="1721" y="725.0" width="36" height="24.5" fill="#cc0022"/>
<rect x="1721" y="749.0" width="36" height="24.5" fill="#e80e30"/>
<rect x="1721" y="773.0" width="36" height="25.5" fill="#dd801a"/>
<rect x="1721" y="798.0" width="36" height="24.5" fill="#d8921e"/>
<rect x="1721" y="822.0" width="36" height="24.5" fill="#d1aa27"/>
<rect x="1721" y="846.0" width="36" height="24.5" fill="#c4c633"/>
<rect x="1721" y="870.0" width="36" height="24.5" fill="#d2d337"/>
<rect x="1721" y="894.0" width="36" height="24.5" fill="#d9dc3c"/>
<rect x="1721" y="918.0" width="36" height="24.5" fill="#e3e33f"/>
<rect x="1721" y="942.0" width="36" height="24.5" fill="#ecef42"/>
<rect x="1721" y="966.0" width="36" height="24.5" fill="#246d1d"/>
<rect x="1721" y="990.0" width="36" height="24.5" fill="#2a8a22"/>
<rect x="1721" y="1014.0" width="36" height="24.5" fill="#2f9f25"/>
<rect x="1721" y="1038.0" width="36" height="24.5" fill="#34b02a"/>
<rect x="1721" y="1062.0" width="36" height="24.5" fill="#3dc22d"/>
<rect x="1721" y="1086.0" width="36" height="24.5" fill="#43d231"/>
<rect x="1721" y="1110.0" width="36" height="24.5" fill="#4ae335"/>
<rect x="1721" y="1134.0" width="36" height="24.5" fill="#55f23a"/>
<rect x="1721" y="1158.0" width="36" height="25.5" fill="#2db0dc"/>
<rect x="1721" y="1183.0" width="36" height="24.5" fill="#24a2d2"/>
<rect x="1721" y="1207.0" width="36" height="48.5" fill="#2595c5"/>
<rect x="1721" y="1255.0" width="36" height="48.5" fill="#2a89bb"/>
<rect x="1721" y="1303.0" width="36" height="48.5" fill="#2e7fb0"/>
<rect x="1721" y="1351.0" width="36" height="72.5" fill="#3774a6"/>
<rect x="1721" y="1423.0" width="36" height="72.5" fill="#3a6899"/>
<rect x="1721" y="1495.0" width="36" height="73.5" fill="#3b5a8a"/>
<rect x="1721" y="1568.0" width="36" height="72.5" fill="#3b4c7a"/>
<rect x="1721" y="1640.0" width="36" height="118.5" fill="#3b3f6b"/>
<g font-family="Liberation Sans, sans-serif" font-size="27.5" fill="#000">
<line x1="1758" y1="243.6" x2="1768" y2="243.6" stroke="#000" stroke-width="2.5"/>
<text x="1779" y="255.1">75</text>
<line x1="1758" y1="323.8" x2="1768" y2="323.8" stroke="#000" stroke-width="2.5"/>
<text x="1779" y="335.3">70</text>
<line x1="1758" y1="404.0" x2="1768" y2="404.0" stroke="#000" stroke-width="2.5"/>
<text x="1779" y="415.5">65</text>
<line x1="1758" y1="484.2" x2="1768" y2="484.2" stroke="#000" stroke-width="2.5"/>
<text x="1779" y="495.7">60</text>
<line x1="1758" y1="564.4" x2="1768" y2="564.4" stroke="#000" stroke-width="2.5"/>
<text x="1779" y="575.9">55</text>
<line x1="1758" y1="644.6" x2="1768" y2="644.6" stroke="#000" stroke-width="2.5"/>
<text x="1779" y="656.1">50</text>
<line x1="1758" y1="724.8" x2="1768" y2="724.8" stroke="#000" stroke-width="2.5"/>
<text x="1779" y="736.3">45</text>
<line x1="1758" y1="805.0" x2="1768" y2="805.0" stroke="#000" stroke-width="2.5"/>
<text x="1779" y="816.5">40</text>
<line x1="1758" y1="885.2" x2="1768" y2="885.2" stroke="#000" stroke-width="2.5"/>
<text x="1779" y="896.7">35</text>
<line x1="1758" y1="965.4" x2="1768" y2="965.4" stroke="#000" stroke-width="2.5"/>
<text x="1779" y="976.9">30</text>
<line x1="1758" y1="1045.6" x2="1768" y2="1045.6" stroke="#000" stroke-width="2.5"/>
<text x="1779" y="1057.1">25</text>
<line x1="1758" y1="1125.8" x2="1768" y2="1125.8" stroke="#000" stroke-width="2.5"/>
<text x="1779" y="1137.3">20</text>
<line x1="1758" y1="1206.0" x2="1768" y2="1206.0" stroke="#000" stroke-width="2.5"/>
<text x="1779" y="1217.5">15</text>
<line x1="1758" y1="1286.2" x2="1768" y2="1286.2" stroke="#000" stroke-width="2.5"/>
<text x="1779" y="1297.7">10</text>
<line x1="1758" y1="1366.4" x2="1768" y2="1366.4" stroke="#000" stroke-width="2.5"/>
<text x="1779" y="1377.9">5</text>
<line x1="1758" y1="1446.6" x2="1768" y2="1446.6" stroke="#000" stroke-width="2.5"/>
<text x="1779" y="1458.1">0</text>
<line x1="1758" y1="1526.8" x2="1768" y2="1526.8" stroke="#000" stroke-width="2.5"/>
<text x="1779" y="1538.3">−5</text>
<line x1="1758" y1="1607.0" x2="1768" y2="1607.0" stroke="#000" stroke-width="2.5"/>
<text x="1779" y="1618.5">−10</text>
<line x1="1758" y1="1687.2" x2="1768" y2="1687.2" stroke="#000" stroke-width="2.5"/>
<text x="1779" y="1698.7">−15</text>
</g>
<!-- LOGOS -->
<defs><g id="coa"><g fill="none" stroke="currentColor">
<ellipse cx="0" cy="0" rx="28.4" ry="40.3" stroke-width="1.8"/>
<g stroke-width="1.1"><line x1="-11.7" y1="-36.7" x2="11.7" y2="-36.7"/><line x1="-18.0" y1="-31.2" x2="18.0" y2="-31.2"/><line x1="-22.3" y1="-24.9" x2="22.3" y2="-24.9"/><line x1="-25.0" y1="-19.1" x2="25.0" y2="-19.1"/><line x1="-26.8" y1="-13.2" x2="26.8" y2="-13.2"/><line x1="-27.9" y1="-7.3" x2="27.9" y2="-7.3"/><line x1="-28.4" y1="-1.5" x2="28.4" y2="-1.5"/></g>
<g stroke-width="1.2"><line x1="-9.0" y1="-45.0" x2="-33.8" y2="-45.0"/><line x1="-8.9" y1="-46.1" x2="-28.1" y2="-48.2"/><line x1="-8.7" y1="-47.2" x2="-32.6" y2="-52.4"/><line x1="-8.3" y1="-48.3" x2="-26.2" y2="-54.2"/><line x1="-7.8" y1="-49.3" x2="-29.2" y2="-59.4"/><line x1="-7.1" y1="-50.2" x2="-22.5" y2="-59.7"/><line x1="-6.4" y1="-51.0" x2="-23.9" y2="-65.3"/><line x1="-5.5" y1="-51.8" x2="-17.3" y2="-64.2"/><line x1="-4.5" y1="-52.4" x2="-16.9" y2="-69.9"/><line x1="-3.4" y1="-52.9" x2="-10.8" y2="-67.3"/><line x1="-2.3" y1="-53.3" x2="-8.7" y2="-72.8"/><line x1="-1.2" y1="-53.5" x2="-3.7" y2="-68.9"/><line x1="-0.0" y1="-53.5" x2="-0.0" y2="-73.8"/><line x1="1.2" y1="-53.5" x2="3.7" y2="-68.9"/><line x1="2.3" y1="-53.3" x2="8.7" y2="-72.8"/><line x1="3.4" y1="-52.9" x2="10.8" y2="-67.3"/><line x1="4.5" y1="-52.4" x2="16.9" y2="-69.9"/><line x1="5.5" y1="-51.8" x2="17.3" y2="-64.2"/><line x1="6.4" y1="-51.0" x2="23.9" y2="-65.3"/><line x1="7.1" y1="-50.2" x2="22.5" y2="-59.7"/><line x1="7.8" y1="-49.3" x2="29.2" y2="-59.4"/><line x1="8.3" y1="-48.3" x2="26.2" y2="-54.2"/><line x1="8.7" y1="-47.2" x2="32.6" y2="-52.4"/><line x1="8.9" y1="-46.1" x2="28.1" y2="-48.2"/><line x1="9.0" y1="-45.0" x2="33.8" y2="-45.0"/></g>
<path d="M-28,10 C-15,7 -8,4 0,4.5 C8,4 15,7 28,10" stroke-width="1.1"/>
<path d="M-26,20 C-18,16 -12,13 -6,11" stroke-width="1.1"/>
<path d="M26,20 C18,16 12,13 6,11" stroke-width="1.1"/>
<g stroke-width="1" ><ellipse cx="-12.3" cy="-41.3" rx="4.2" ry="2.2" transform="rotate(-24 -12.3 -41.3)"/><ellipse cx="-20.4" cy="-36.3" rx="4.2" ry="2.2" transform="rotate(-40 -20.4 -36.3)"/><ellipse cx="-27.2" cy="-28.9" rx="4.2" ry="2.2" transform="rotate(-55 -27.2 -28.9)"/><ellipse cx="-32.2" cy="-19.6" rx="4.2" ry="2.2" transform="rotate(-68 -32.2 -19.6)"/><ellipse cx="-35.2" cy="-9.1" rx="4.2" ry="2.2" transform="rotate(-80 -35.2 -9.1)"/><ellipse cx="-36.0" cy="1.9" rx="4.2" ry="2.2" transform="rotate(-92 -36.0 1.9)"/><ellipse cx="-34.4" cy="12.9" rx="4.2" ry="2.2" transform="rotate(-104 -34.4 12.9)"/><ellipse cx="-30.7" cy="23.0" rx="4.2" ry="2.2" transform="rotate(-117 -30.7 23.0)"/><ellipse cx="-25.0" cy="31.7" rx="4.2" ry="2.2" transform="rotate(-130 -25.0 31.7)"/><ellipse cx="-17.7" cy="38.3" rx="4.2" ry="2.2" transform="rotate(-145 -17.7 38.3)"/><ellipse cx="-9.3" cy="42.5" rx="4.2" ry="2.2" transform="rotate(-162 -9.3 42.5)"/><ellipse cx="12.3" cy="-41.3" rx="4.2" ry="2.2" transform="rotate(24 12.3 -41.3)"/><ellipse cx="20.4" cy="-36.3" rx="4.2" ry="2.2" transform="rotate(40 20.4 -36.3)"/><ellipse cx="27.2" cy="-28.9" rx="4.2" ry="2.2" transform="rotate(55 27.2 -28.9)"/><ellipse cx="32.2" cy="-19.6" rx="4.2" ry="2.2" transform="rotate(68 32.2 -19.6)"/><ellipse cx="35.2" cy="-9.1" rx="4.2" ry="2.2" transform="rotate(80 35.2 -9.1)"/><ellipse cx="36.0" cy="1.9" rx="4.2" ry="2.2" transform="rotate(92 36.0 1.9)"/><ellipse cx="34.4" cy="12.9" rx="4.2" ry="2.2" transform="rotate(104 34.4 12.9)"/><ellipse cx="30.7" cy="23.0" rx="4.2" ry="2.2" transform="rotate(117 30.7 23.0)"/><ellipse cx="25.0" cy="31.7" rx="4.2" ry="2.2" transform="rotate(130 25.0 31.7)"/><ellipse cx="17.7" cy="38.3" rx="4.2" ry="2.2" transform="rotate(145 17.7 38.3)"/><ellipse cx="9.3" cy="42.5" rx="4.2" ry="2.2" transform="rotate(162 9.3 42.5)"/></g>
</g>
<g fill="currentColor" stroke="none">
<circle cx="0" cy="-45.5" r="9"/>
<rect x="-0.9" y="-14" width="1.8" height="45.5"/>
<path d="M-9,-14 C-10,-22 -8,-28 0,-28.5 C6,-28 9,-22 9,-14 C4,-12 -4,-12 -9,-14 Z" fill="none" stroke="currentColor" stroke-width="1.3"/>
<path d="M-8,11 C-4,8 4,8 9,13 C4,16 -4,16 -8,11 Z"/>
<path d="M-10,42 L10,42 L9,48 L-9,48 Z"/>
<path d="M-3,48 L-12,55 M3,48 L12,55" stroke="currentColor" stroke-width="2.2"/>
</g>
<circle cx="0" cy="-45.5" r="7" fill="#e6e6e6"/>
<ellipse cx="-3.5" cy="-47" rx="2" ry="1" fill="currentColor"/><ellipse cx="3.5" cy="-47" rx="2" ry="1" fill="currentColor"/>
</g></defs>
<g>
<path d="M149.2,1815.2 A47.4,47.4 0 1 0 146.8,1855.8 L131.5,1846 A28.8,28.8 0 1 1 133,1821 Z" fill="#fdb515"/>
<path d="M99.7,1821 C115,1817 125,1823 135,1822 C150,1821 158,1816 166.5,1814 L166.5,1830.6 C158,1833 150,1836 135,1833 C125,1831 115,1829 99.7,1832.5 Z" fill="#0a96d8"/>
<path d="M99.7,1840.5 C115,1836.5 125,1839 135,1838.5 C150,1838 158,1835 166.5,1834 L166.5,1847 C158,1850 150,1852 135,1850.5 C125,1849 115,1849 99.7,1852.5 Z" fill="#0a96d8"/>
<g font-family="Liberation Sans, sans-serif" fill="#222">
<text x="178.6" y="1807.6" font-size="27" textLength="112.8" lengthAdjust="spacingAndGlyphs">Servicio</text>
<text x="178.6" y="1834" font-size="27" textLength="201" lengthAdjust="spacingAndGlyphs">Meteorológico</text>
<text x="178.6" y="1860" font-size="27" textLength="120.5" lengthAdjust="spacingAndGlyphs">Nacional</text>
<text x="180" y="1880.6" font-size="18.4" font-weight="bold" textLength="93" lengthAdjust="spacingAndGlyphs">Argentina</text>
</g>
<use href="#coa" transform="translate(532.8,1841.3)" style="color:#59617f"/>
<g font-family="Liberation Serif, serif" fill="#3a4365">
<text x="583.6" y="1827.8" font-size="29" font-weight="bold" textLength="131.5" lengthAdjust="spacingAndGlyphs">Ministerio</text>
<text x="583.6" y="1853.6" font-size="29" font-weight="bold" textLength="132.5" lengthAdjust="spacingAndGlyphs">de Defensa</text>
<text x="583.6" y="1873.6" font-size="18" textLength="150" lengthAdjust="spacingAndGlyphs">República Argentina</text>
</g>
<use href="#coa" transform="translate(893.8,1841.3)" style="color:#27305a"/>
<g font-family="Liberation Serif, serif" fill="#1f2a4d">
<text x="946.8" y="1826.4" font-size="29" font-weight="bold" textLength="134" lengthAdjust="spacingAndGlyphs">Ministerio</text>
<text x="946.8" y="1853" font-size="29" font-weight="bold" textLength="162" lengthAdjust="spacingAndGlyphs">de Economía</text>
<text x="946.8" y="1873.6" font-size="18" textLength="152.5" lengthAdjust="spacingAndGlyphs">República Argentina</text>
</g>
</g>
</svg>
</body></html>
